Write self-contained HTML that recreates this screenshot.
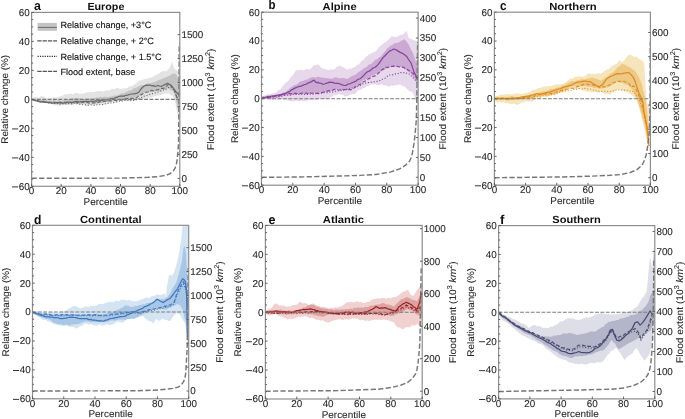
<!DOCTYPE html>
<html><head><meta charset="utf-8"><style>
html,body{margin:0;padding:0;background:#fff;}
svg{display:block;}
#wrap{width:685px;height:419px;overflow:hidden;will-change:transform;}
text{font-family:"Liberation Sans", sans-serif;fill:#262626;text-rendering:geometricPrecision;}
.tk{font-size:9.9px;fill:#2a2a2a;stroke:#2a2a2a;stroke-width:0.1px;}
.lb{font-size:9.7px;fill:#2a2a2a;stroke:#2a2a2a;stroke-width:0.08px;}
.ti{font-size:10.3px;font-weight:bold;fill:#111;}
.lt{font-size:12.8px;font-weight:bold;fill:#111;}
.lg{font-size:9.12px;fill:#111;stroke:#111;stroke-width:0.12px;}
</style></head><body><div id="wrap">
<svg width="685" height="419" viewBox="0 0 685 419">
<rect x="0" y="0" width="685" height="419" fill="#fff"/>
<clipPath id="clipa"><rect x="31.6" y="12.4" width="148.20" height="173.90"/></clipPath>
<g clip-path="url(#clipa)">
<polygon points="31.6,99.0 34.6,97.0 36.5,97.1 38.3,97.8 41.2,96.0 44.1,96.7 47.0,98.5 49.2,98.7 51.4,98.1 53.6,97.3 55.8,97.8 58.0,97.3 60.2,96.3 62.4,95.8 64.6,94.5 66.8,94.2 69.0,94.1 71.2,93.7 73.3,94.5 75.2,93.0 77.0,93.0 78.7,93.6 80.4,93.9 82.1,93.7 83.8,93.4 85.5,92.7 87.3,92.2 89.0,92.3 90.8,92.0 92.5,92.1 94.3,92.0 96.0,91.2 97.8,91.0 99.5,90.7 101.3,91.2 103.0,91.6 104.8,90.9 106.5,90.0 108.3,90.6 110.0,89.9 111.7,88.8 113.3,89.1 115.0,89.0 116.7,87.6 118.8,88.6 120.6,89.1 122.3,88.5 124.1,88.5 125.8,88.2 127.6,87.7 129.5,86.2 131.5,86.6 133.4,85.0 135.1,84.1 136.7,83.0 138.3,81.4 140.0,80.0 141.7,80.3 143.4,79.4 145.1,78.9 146.8,78.7 148.5,78.4 150.1,77.3 151.8,77.8 153.4,76.7 155.1,75.3 156.8,74.8 158.4,73.9 160.1,72.5 161.8,71.5 163.4,71.0 165.1,71.3 166.8,70.9 168.7,68.7 170.5,66.0 171.8,61.7 174.3,68.4 176.0,70.1 177.7,70.9 179.8,72.0 179.8,122.0 178.5,118.0 177.0,112.0 175.5,104.0 173.5,97.0 172.0,95.5 170.3,95.0 168.5,93.3 166.8,93.4 165.0,93.3 163.3,94.0 161.5,94.9 159.8,95.3 158.0,95.5 156.0,95.8 154.0,96.3 152.0,97.6 150.0,97.5 148.4,98.4 146.7,98.3 145.1,98.1 143.4,99.4 141.8,99.3 140.1,98.9 138.4,99.5 136.7,100.7 135.0,100.4 133.2,101.1 131.3,100.4 129.4,101.0 127.6,100.8 125.8,101.3 124.1,100.6 122.3,101.0 120.6,101.1 118.8,101.3 117.0,101.8 115.3,102.6 113.5,101.9 111.8,101.9 110.0,103.0 108.3,103.7 106.5,103.7 104.8,103.9 103.0,104.5 101.3,104.8 99.5,104.3 97.8,104.9 96.0,104.9 94.3,104.9 92.5,105.2 90.2,105.0 88.0,105.5 86.4,107.0 83.8,103.9 81.0,104.3 78.9,103.5 76.9,104.9 74.8,104.3 73.0,104.7 71.2,104.7 69.3,104.7 67.5,105.1 65.7,104.6 63.8,105.4 62.0,104.7 60.1,105.7 58.3,105.8 56.5,105.3 54.7,105.6 52.9,104.3 51.1,104.3 49.2,104.1 47.4,103.6 45.6,103.2 43.8,102.9 42.0,102.9 40.1,101.3 38.3,101.4 36.6,101.5 35.0,101.4 33.3,100.1 31.6,100.0" fill="#e3e3e3"/>
<polygon points="31.6,99.2 33.3,99.2 35.0,98.7 36.6,99.6 38.3,99.0 40.0,99.5 41.7,100.1 43.3,99.3 45.0,100.3 46.7,100.2 48.3,100.8 50.0,100.5 51.7,101.0 53.3,100.1 55.0,100.0 56.7,101.0 58.3,100.0 60.0,100.5 61.7,100.7 63.3,100.2 65.0,100.2 66.7,100.0 68.3,98.9 70.0,99.1 71.7,98.5 73.3,97.9 75.0,98.2 76.8,98.0 78.5,98.2 80.2,98.3 82.0,98.9 83.8,98.9 85.5,98.5 87.2,98.4 89.0,98.4 90.8,98.2 92.5,98.6 94.7,98.1 96.9,97.3 98.5,97.7 100.2,96.5 101.8,97.5 103.5,96.9 105.1,96.5 106.7,96.9 108.4,97.1 110.0,96.5 111.8,96.4 113.5,95.6 115.3,95.4 117.0,95.5 118.8,94.7 120.6,93.6 122.3,93.3 124.1,93.2 125.8,91.9 127.6,91.6 129.4,90.3 131.3,90.4 133.2,88.4 135.0,88.1 136.7,87.5 138.4,86.3 140.1,85.8 141.8,85.1 143.5,84.9 145.1,84.4 146.8,83.7 148.4,83.1 150.1,83.5 151.7,82.7 153.4,82.6 155.1,81.7 156.8,80.9 158.4,80.2 160.1,79.5 161.8,79.2 163.5,77.9 165.2,77.7 166.8,76.9 168.5,75.9 170.2,75.6 171.8,73.7 173.5,73.4 175.2,73.7 176.8,75.0 178.5,80.0 179.8,85.0 179.8,114.0 177.5,108.0 176.0,100.0 173.5,91.8 171.8,90.6 170.2,90.0 168.5,88.4 166.8,88.3 165.2,89.4 163.5,89.7 161.8,89.7 160.2,91.2 158.5,91.0 156.8,90.8 155.1,91.8 153.4,92.0 151.8,92.3 150.1,92.0 148.4,92.0 146.7,92.1 145.0,92.6 143.3,93.0 141.7,94.3 140.0,95.6 138.3,96.0 136.7,96.8 135.0,97.8 133.2,98.1 131.3,98.5 129.4,98.3 127.6,98.6 125.8,99.5 124.1,98.9 122.3,99.4 120.6,99.2 118.8,100.0 117.0,100.9 115.3,100.3 113.5,101.3 111.8,100.6 110.0,101.3 108.3,102.1 106.5,101.9 104.8,102.1 103.0,103.1 101.3,103.0 99.5,102.6 97.8,103.1 96.0,103.5 94.3,103.3 92.5,103.5 90.8,103.0 89.0,103.5 87.2,103.8 85.5,103.5 83.8,103.5 82.0,104.1 80.2,104.4 78.5,104.2 76.8,103.8 75.0,103.9 73.3,104.0 71.7,103.9 70.0,103.8 68.3,104.2 66.7,103.6 65.0,104.0 63.3,103.9 61.7,103.8 60.0,104.4 58.3,104.1 56.7,103.6 55.0,104.0 53.3,103.3 51.7,104.0 50.0,103.2 48.3,102.7 46.7,102.6 45.0,103.0 43.2,102.8 41.5,102.3 39.8,102.2 38.0,101.5 35.9,100.4 33.7,100.6 31.6,99.8" fill="#c3c3c3"/>
<polyline points="31.6,99.6 33.3,99.8 35.0,100.7 36.6,101.2 38.3,101.2 40.0,101.8 41.7,102.3 43.3,101.8 45.0,102.3 46.7,102.4 48.3,102.7 50.0,103.2 51.7,103.3 53.3,103.3 55.0,103.5 56.7,103.3 58.3,103.7 60.0,104.1 61.7,103.4 63.3,103.9 65.0,104.0 66.7,103.8 68.3,103.6 70.0,103.4 71.7,103.8 73.3,103.1 75.0,103.0 76.8,103.5 78.5,103.3 80.3,104.5 82.0,104.5 83.8,104.8 85.5,104.8 87.3,105.3 89.0,105.1 90.8,104.9 92.5,105.2 94.3,105.4 96.0,105.2 97.8,104.6 99.5,104.7 101.3,104.8 103.0,104.5 104.8,103.8 106.5,104.1 108.3,103.2 110.0,103.0 111.8,103.0 113.5,102.6 115.3,102.2 117.0,101.9 118.8,101.3 120.6,100.7 122.3,101.0 124.1,100.4 125.8,100.6 127.6,100.4 129.4,100.8 131.3,100.6 133.2,100.4 135.0,100.4 136.7,99.4 138.3,98.8 140.0,97.9 141.7,97.5 143.3,96.5 145.0,96.0 146.7,95.5 148.3,94.9 150.0,94.2 151.7,93.8 153.3,93.3 155.0,93.0 156.7,92.6 158.3,91.8 160.0,91.2 161.7,90.8 163.3,90.1 165.0,90.0 166.7,88.6 168.3,87.6 170.0,87.0 172.0,88.1 174.0,90.0 177.0,98.0 179.5,102.0" fill="none" stroke="#6a6a6a" stroke-width="1.1" stroke-dasharray="1.1,1.8"/>
<polyline points="31.6,99.4 33.3,99.8 35.0,100.3 36.6,100.5 38.3,100.9 40.0,101.5 41.7,101.8 43.3,101.4 45.0,102.0 46.7,101.7 48.3,102.4 50.0,102.4 51.7,102.2 53.3,102.1 55.0,102.5 56.7,102.6 58.3,102.8 60.0,102.2 61.7,102.6 63.3,102.8 65.0,102.0 66.7,102.2 68.3,102.4 70.0,102.5 71.7,102.6 73.3,102.4 75.0,102.2 76.8,102.5 78.5,102.0 80.2,102.3 82.0,102.2 83.8,102.4 85.5,102.5 87.2,102.3 89.0,103.1 90.8,102.9 92.5,102.9 94.2,102.9 96.0,102.8 97.8,102.7 99.5,101.9 101.2,101.6 103.0,101.4 104.8,101.5 106.5,101.2 108.2,101.0 110.0,100.8 111.8,100.9 113.5,100.5 115.3,100.1 117.0,100.6 118.8,100.0 120.6,100.1 122.3,99.6 124.1,98.9 125.8,98.9 127.6,98.6 129.4,98.5 131.3,98.4 133.2,98.5 135.0,98.6 136.7,97.8 138.3,96.2 140.0,95.0 141.7,94.6 143.3,93.2 145.0,92.8 146.7,92.0 148.3,92.0 150.0,91.0 151.7,90.3 153.4,90.7 155.1,90.4 156.8,89.9 158.4,89.5 160.1,88.7 161.8,88.4 163.5,88.4 165.2,87.4 166.8,85.8 168.5,84.2 170.2,85.3 171.8,86.8 173.5,88.4 176.8,96.8 179.5,100.0" fill="none" stroke="#6a6a6a" stroke-width="1.15" stroke-dasharray="3.7,1.9"/>
<polyline points="31.6,99.4 33.7,100.2 35.9,100.6 38.0,101.2 39.8,101.8 41.5,101.6 43.2,101.8 45.0,102.3 46.7,102.1 48.3,102.7 50.0,102.4 51.7,103.0 53.3,103.0 55.0,102.8 56.7,102.6 58.3,102.6 60.0,102.8 61.7,103.0 63.3,103.2 65.0,102.8 66.7,102.7 68.3,102.1 70.0,102.0 71.7,102.3 73.3,102.1 75.0,101.5 76.8,101.3 78.5,101.8 80.3,101.7 82.0,101.5 83.8,101.3 85.5,101.4 87.3,101.3 89.0,101.5 90.8,101.0 92.5,101.3 94.3,101.1 96.0,100.8 97.8,101.2 99.5,100.3 101.3,100.4 103.0,100.2 104.8,100.0 106.5,99.8 108.3,99.8 110.0,99.1 111.8,98.5 113.5,98.5 115.3,97.8 117.0,97.1 118.8,96.5 120.6,96.2 122.3,96.1 124.1,96.1 125.8,95.3 127.6,95.2 129.4,94.5 131.3,94.0 133.2,93.9 135.0,93.7 137.0,93.1 139.0,92.0 141.0,89.0 143.5,86.5 146.0,85.2 148.0,85.4 150.0,85.0 151.7,85.8 153.3,85.6 155.0,86.5 158.0,85.5 161.0,86.5 164.0,85.0 165.8,84.1 167.7,83.4 169.3,84.3 171.0,85.0 174.0,89.0 177.0,93.0 179.5,95.0" fill="none" stroke="#6a6a6a" stroke-width="1.25" stroke-linejoin="round"/>
</g>
<line x1="31.6" y1="99.35" x2="179.8" y2="99.35" stroke="#7c7c7c" stroke-width="1.05" stroke-dasharray="3.85,1.51"/>
<polyline clip-path="url(#clipa)" points="31.6,178.3 120.0,178.1 138.0,177.6 148.0,177.3 158.0,176.6 166.1,175.3 170.1,173.6 173.1,171.1 175.1,168.1 176.4,164.1 177.1,160.0 177.6,155.0 178.1,150.0 178.4,145.0 178.6,140.0 178.8,120.0 179.0,100.0 179.1,70.0 179.2,46.0" fill="none" stroke="#767676" stroke-width="1.45" stroke-dasharray="5.25,2.27"/>
<rect x="31.6" y="12.4" width="148.2" height="173.9" fill="none" stroke="#8e8e8e" stroke-width="1.2"/>
<line x1="31.6" y1="186.3" x2="33.8" y2="186.3" stroke="#555" stroke-width="0.9"/>
<line x1="31.6" y1="179.05" x2="33.2" y2="179.05" stroke="#555" stroke-width="0.9"/>
<line x1="31.6" y1="171.81" x2="33.2" y2="171.81" stroke="#555" stroke-width="0.9"/>
<line x1="31.6" y1="164.56" x2="33.2" y2="164.56" stroke="#555" stroke-width="0.9"/>
<line x1="31.6" y1="157.32" x2="33.8" y2="157.32" stroke="#555" stroke-width="0.9"/>
<line x1="31.6" y1="150.07" x2="33.2" y2="150.07" stroke="#555" stroke-width="0.9"/>
<line x1="31.6" y1="142.83" x2="33.2" y2="142.83" stroke="#555" stroke-width="0.9"/>
<line x1="31.6" y1="135.58" x2="33.2" y2="135.58" stroke="#555" stroke-width="0.9"/>
<line x1="31.6" y1="128.33" x2="33.8" y2="128.33" stroke="#555" stroke-width="0.9"/>
<line x1="31.6" y1="121.09" x2="33.2" y2="121.09" stroke="#555" stroke-width="0.9"/>
<line x1="31.6" y1="113.84" x2="33.2" y2="113.84" stroke="#555" stroke-width="0.9"/>
<line x1="31.6" y1="106.6" x2="33.2" y2="106.6" stroke="#555" stroke-width="0.9"/>
<line x1="31.6" y1="99.35" x2="33.8" y2="99.35" stroke="#555" stroke-width="0.9"/>
<line x1="31.6" y1="92.1" x2="33.2" y2="92.1" stroke="#555" stroke-width="0.9"/>
<line x1="31.6" y1="84.86" x2="33.2" y2="84.86" stroke="#555" stroke-width="0.9"/>
<line x1="31.6" y1="77.61" x2="33.2" y2="77.61" stroke="#555" stroke-width="0.9"/>
<line x1="31.6" y1="70.37" x2="33.8" y2="70.37" stroke="#555" stroke-width="0.9"/>
<line x1="31.6" y1="63.12" x2="33.2" y2="63.12" stroke="#555" stroke-width="0.9"/>
<line x1="31.6" y1="55.88" x2="33.2" y2="55.88" stroke="#555" stroke-width="0.9"/>
<line x1="31.6" y1="48.63" x2="33.2" y2="48.63" stroke="#555" stroke-width="0.9"/>
<line x1="31.6" y1="41.38" x2="33.8" y2="41.38" stroke="#555" stroke-width="0.9"/>
<line x1="31.6" y1="34.14" x2="33.2" y2="34.14" stroke="#555" stroke-width="0.9"/>
<line x1="31.6" y1="26.89" x2="33.2" y2="26.89" stroke="#555" stroke-width="0.9"/>
<line x1="31.6" y1="19.65" x2="33.2" y2="19.65" stroke="#555" stroke-width="0.9"/>
<line x1="31.6" y1="12.4" x2="33.8" y2="12.4" stroke="#555" stroke-width="0.9"/>
<text x="29.8" y="189.7" text-anchor="end" class="tk">60</text>
<line x1="12.1" y1="186.9" x2="18.2" y2="186.9" stroke="#2a2a2a" stroke-width="0.95"/>
<text x="29.8" y="160.72" text-anchor="end" class="tk">40</text>
<line x1="12.1" y1="157.92" x2="18.2" y2="157.92" stroke="#2a2a2a" stroke-width="0.95"/>
<text x="29.8" y="131.73" text-anchor="end" class="tk">20</text>
<line x1="12.1" y1="128.93" x2="18.2" y2="128.93" stroke="#2a2a2a" stroke-width="0.95"/>
<text x="29.8" y="102.75" text-anchor="end" class="tk">0</text>
<text x="29.8" y="73.77" text-anchor="end" class="tk">20</text>
<text x="29.8" y="44.78" text-anchor="end" class="tk">40</text>
<text x="29.8" y="15.8" text-anchor="end" class="tk">60</text>
<line x1="31.6" y1="186.3" x2="31.6" y2="183.9" stroke="#555" stroke-width="0.9"/>
<text x="31.6" y="194.1" text-anchor="middle" class="tk">0</text>
<line x1="61.24" y1="186.3" x2="61.24" y2="183.9" stroke="#555" stroke-width="0.9"/>
<text x="61.24" y="194.1" text-anchor="middle" class="tk">20</text>
<line x1="90.88" y1="186.3" x2="90.88" y2="183.9" stroke="#555" stroke-width="0.9"/>
<text x="90.88" y="194.1" text-anchor="middle" class="tk">40</text>
<line x1="120.52" y1="186.3" x2="120.52" y2="183.9" stroke="#555" stroke-width="0.9"/>
<text x="120.52" y="194.1" text-anchor="middle" class="tk">60</text>
<line x1="150.16" y1="186.3" x2="150.16" y2="183.9" stroke="#555" stroke-width="0.9"/>
<text x="150.16" y="194.1" text-anchor="middle" class="tk">80</text>
<line x1="179.8" y1="186.3" x2="179.8" y2="183.9" stroke="#555" stroke-width="0.9"/>
<text x="179.8" y="194.1" text-anchor="middle" class="tk">100</text>
<line x1="179.8" y1="178.4" x2="177.6" y2="178.4" stroke="#555" stroke-width="0.9"/>
<text x="181.4" y="181.8" class="tk">0</text>
<line x1="179.8" y1="154.43" x2="177.6" y2="154.43" stroke="#555" stroke-width="0.9"/>
<text x="181.4" y="157.83" class="tk">250</text>
<line x1="179.8" y1="130.46" x2="177.6" y2="130.46" stroke="#555" stroke-width="0.9"/>
<text x="181.4" y="133.86" class="tk">500</text>
<line x1="179.8" y1="106.49" x2="177.6" y2="106.49" stroke="#555" stroke-width="0.9"/>
<text x="181.4" y="109.89" class="tk">750</text>
<line x1="179.8" y1="82.52" x2="177.6" y2="82.52" stroke="#555" stroke-width="0.9"/>
<text x="181.4" y="85.92" class="tk">1000</text>
<line x1="179.8" y1="58.55" x2="177.6" y2="58.55" stroke="#555" stroke-width="0.9"/>
<text x="181.4" y="61.95" class="tk">1250</text>
<line x1="179.8" y1="34.58" x2="177.6" y2="34.58" stroke="#555" stroke-width="0.9"/>
<text x="181.4" y="37.98" class="tk">1500</text>
<text x="105.9" y="9.9" text-anchor="middle" class="ti" textLength="37.0" lengthAdjust="spacingAndGlyphs">Europe</text>
<text x="33.9" y="9.6" class="lt" textLength="6.9" lengthAdjust="spacingAndGlyphs">a</text>
<text x="105.7" y="204.9" text-anchor="middle" class="lb" textLength="44.3" lengthAdjust="spacingAndGlyphs">Percentile</text>
<text transform="translate(8.2,99.35) rotate(-90)" text-anchor="middle" class="lb" textLength="88.8" lengthAdjust="spacingAndGlyphs">Relative change (%)</text>
<text transform="translate(213.8,99.35) rotate(-90)" text-anchor="middle" class="lb" textLength="101.5" lengthAdjust="spacingAndGlyphs">Flood extent (10<tspan dy="-4.0" font-size="6.8">3</tspan><tspan dy="4.0"> </tspan><tspan font-style="italic">km</tspan><tspan dy="-4.0" font-size="6.8">2</tspan><tspan dy="4.0">)</tspan></text>
<clipPath id="clipb"><rect x="261.5" y="12.2" width="156.60" height="173.00"/></clipPath>
<g clip-path="url(#clipb)">
<polygon points="261.5,97.5 263.6,95.7 265.6,95.0 267.7,94.3 269.4,93.9 271.0,94.1 272.7,93.4 274.4,93.1 276.1,92.8 277.7,90.5 279.4,90.1 281.1,88.5 282.7,86.0 284.4,84.3 286.1,82.3 287.7,81.7 289.4,79.2 291.1,76.4 292.7,75.4 294.4,72.6 296.0,70.5 297.7,69.7 299.4,70.4 301.0,69.2 302.7,70.4 304.4,70.1 306.1,69.3 307.8,69.2 309.4,69.4 311.1,68.4 312.8,66.3 314.4,65.1 316.5,64.4 318.6,64.7 321.1,67.6 322.8,68.4 324.5,69.1 326.1,69.3 327.8,70.1 329.5,69.9 331.1,69.2 332.8,69.6 334.5,69.2 336.2,67.7 338.0,66.1 341.0,65.9 342.9,67.2 344.7,67.9 346.6,69.4 348.3,69.2 350.0,68.6 351.8,68.8 353.5,67.3 355.2,67.2 356.8,64.9 358.4,64.8 360.0,63.1 361.6,60.8 363.7,59.7 365.9,56.8 368.0,55.4 369.6,53.8 371.2,53.8 372.9,52.3 374.5,52.2 376.6,50.4 378.8,47.2 380.9,45.8 382.5,44.3 384.1,42.8 385.8,42.3 387.4,40.4 389.5,38.8 391.7,36.1 393.9,36.7 396.0,37.2 398.1,36.0 400.2,35.0 401.9,34.8 403.5,34.0 406.7,30.7 408.8,38.2 412.0,39.3 413.6,40.2 415.3,40.4 418.1,42.0 418.1,106.0 416.3,101.6 413.1,93.0 411.0,91.8 408.8,90.8 406.6,88.5 404.5,86.5 402.4,86.1 400.2,84.6 398.1,84.4 396.4,85.4 394.7,85.1 392.9,86.0 391.2,85.6 389.5,86.5 387.8,86.5 386.1,85.3 384.3,85.5 382.6,84.8 380.9,84.4 379.1,85.1 377.3,84.9 375.5,84.2 373.8,84.6 372.0,84.5 370.2,84.4 368.4,85.9 366.6,86.3 364.9,87.7 363.1,88.1 361.3,89.4 359.5,89.8 357.4,91.1 355.2,94.0 353.5,94.3 351.8,94.3 350.0,94.8 348.3,95.7 346.6,96.2 344.9,96.5 343.2,94.9 341.4,94.9 339.7,94.1 338.0,94.0 336.3,95.5 334.6,95.3 332.9,95.6 331.2,97.3 329.5,97.9 327.8,98.5 326.1,99.0 324.5,99.2 322.8,99.3 321.1,98.8 319.5,98.5 317.8,99.6 316.1,100.0 314.4,99.7 312.8,100.2 311.1,100.1 309.4,100.0 307.8,100.6 306.1,100.7 304.4,100.9 302.8,101.3 301.1,100.8 299.4,101.3 297.7,101.0 296.1,100.6 294.4,101.0 292.7,101.4 291.1,101.0 289.4,100.9 287.7,100.4 286.0,99.6 284.4,99.8 282.7,99.6 281.0,99.3 279.4,100.1 277.7,99.3 276.1,100.0 274.5,99.1 272.8,100.1 271.2,99.8 269.6,99.6 268.0,98.7 266.4,99.1 264.7,98.5 263.1,98.6 261.5,99.3" fill="#e7d8ec"/>
<polygon points="261.5,97.0 263.1,96.6 264.7,96.5 266.4,95.9 268.0,95.9 269.6,95.6 271.2,96.4 272.8,95.7 274.5,96.0 276.1,95.4 277.7,95.1 279.4,94.3 281.0,93.4 282.7,92.7 284.3,92.2 286.0,91.8 287.7,90.2 289.4,89.1 291.0,87.2 292.7,86.2 294.4,85.1 296.1,84.7 297.8,83.7 299.4,82.0 301.1,81.3 302.8,81.0 304.5,80.2 306.1,79.4 307.8,79.5 309.4,78.3 311.1,77.6 312.8,77.0 314.5,77.4 316.1,77.5 317.8,76.6 319.5,77.1 321.2,77.4 322.8,77.6 324.5,77.9 326.1,78.1 327.8,78.4 329.5,78.2 331.2,78.9 332.9,78.2 334.6,77.5 336.3,77.5 338.0,78.0 339.7,78.6 341.4,78.0 343.2,78.1 344.9,78.3 346.6,79.0 348.3,78.5 350.0,77.3 351.8,76.2 353.5,75.5 355.2,74.7 356.9,73.7 358.6,71.8 360.4,70.9 362.1,69.8 363.8,68.3 365.5,67.8 367.2,66.3 368.9,64.5 370.6,64.3 372.3,62.9 374.0,61.1 375.7,59.8 377.5,59.0 379.2,57.3 380.9,56.5 382.5,54.3 384.1,52.5 385.8,50.6 387.4,47.9 389.0,47.3 390.6,45.5 392.2,45.1 393.8,43.6 395.9,42.9 398.1,42.8 400.2,41.5 402.4,40.2 404.5,39.3 406.6,41.7 408.8,44.7 411.0,49.4 413.1,53.3 416.3,62.9 418.1,68.0 418.1,86.0 415.3,80.1 413.1,77.2 411.0,73.7 409.4,72.2 407.8,71.3 406.1,69.9 404.5,68.3 402.4,67.1 400.2,67.1 398.1,66.1 396.4,66.1 394.7,67.0 392.9,66.3 391.2,67.1 389.5,67.2 387.8,68.6 386.1,68.5 384.3,70.2 382.6,70.6 380.9,71.5 379.2,72.9 377.5,72.9 375.7,73.9 374.0,74.7 372.3,75.8 370.6,76.7 368.9,78.1 367.2,78.6 365.5,79.8 363.8,80.1 362.1,81.3 360.4,83.1 358.6,84.4 356.9,85.6 355.2,86.5 353.5,87.0 351.8,87.8 350.0,89.3 348.3,89.8 346.6,90.8 344.9,90.2 343.2,90.3 341.4,90.0 339.7,89.3 338.0,88.7 336.3,89.4 334.6,90.3 332.9,90.2 331.2,90.5 329.5,91.7 327.8,91.8 326.1,92.2 324.5,92.0 322.8,91.9 321.1,93.0 319.5,92.3 317.8,92.9 316.1,93.2 314.4,92.8 312.8,92.9 311.1,93.4 309.4,94.1 307.8,93.5 306.1,94.2 304.4,93.7 302.8,94.1 301.1,94.4 299.4,93.9 297.7,93.7 296.1,94.8 294.4,94.3 292.7,94.7 291.1,95.5 289.4,94.9 287.7,95.9 286.0,95.6 284.4,96.0 282.7,96.0 281.0,97.0 279.4,96.8 277.7,97.6 276.1,97.9 274.5,97.3 272.8,98.5 271.2,98.4 269.6,98.8 268.0,98.4 266.4,98.8 264.7,98.8 263.1,98.8 261.5,98.8" fill="#caa9d2"/>
<polyline points="261.5,98.5 263.1,98.4 264.7,97.8 266.4,97.7 268.0,98.1 269.6,97.8 271.2,97.5 272.8,97.0 274.5,97.3 276.1,97.0 277.7,96.5 279.4,96.7 281.0,96.3 282.7,95.8 284.4,95.4 286.0,95.1 287.7,95.0 289.4,95.3 291.1,94.8 292.7,94.5 294.4,94.3 296.1,94.4 297.7,94.6 299.4,94.5 301.1,94.1 302.8,94.7 304.4,94.5 306.1,94.1 307.8,94.5 309.4,93.9 311.1,94.3 312.8,94.3 314.4,93.5 316.1,93.7 317.8,94.0 319.5,93.3 321.1,93.2 322.8,93.3 324.5,92.6 326.1,92.7 327.8,92.6 329.5,92.1 331.2,91.7 332.9,92.0 334.6,91.8 336.3,90.9 338.0,90.8 339.6,91.0 341.2,90.5 342.8,90.4 344.4,89.8 346.1,89.4 347.7,88.9 349.3,88.9 350.9,88.7 352.6,87.7 354.3,87.0 356.1,86.7 357.8,86.2 359.5,85.5 361.1,85.0 362.7,83.7 364.3,83.0 366.0,83.0 367.6,82.6 369.3,82.5 371.2,82.1 373.0,81.9 374.9,81.7 376.7,81.4 378.6,81.1 380.7,80.1 382.9,79.0 385.0,78.3 387.1,76.5 389.3,75.0 391.5,75.0 393.6,74.7 395.4,73.9 397.1,73.9 398.9,73.3 400.6,72.6 402.4,72.6 404.0,72.7 405.6,73.5 407.2,73.0 408.8,73.7 410.4,75.0 412.1,77.1 413.7,78.4 415.3,80.1 418.0,84.0" fill="none" stroke="#87449a" stroke-width="1.1" stroke-dasharray="1.1,1.8"/>
<polyline points="261.5,98.3 263.1,97.6 264.7,98.1 266.4,97.7 268.0,97.4 269.6,97.3 271.2,96.9 272.8,96.5 274.5,96.1 276.1,96.0 277.7,96.0 279.4,95.8 281.0,94.6 282.7,94.1 284.3,94.2 286.0,93.4 287.7,93.3 289.4,93.3 291.0,93.7 292.7,93.8 294.4,93.4 296.1,93.3 297.7,93.8 299.4,93.6 301.1,93.3 302.8,93.0 304.4,93.3 306.1,93.0 307.8,93.6 309.4,92.7 311.1,93.1 312.8,93.2 314.5,93.1 316.1,93.5 317.8,93.2 319.5,93.4 321.2,93.1 322.8,92.2 324.5,91.7 326.1,91.7 327.8,90.9 329.5,90.5 331.1,90.4 332.8,90.1 334.5,89.3 336.2,89.2 338.0,89.8 339.6,90.0 341.2,89.4 342.8,89.6 344.4,89.5 346.1,89.5 347.7,89.7 349.3,89.5 350.9,89.8 352.6,88.9 354.3,87.8 356.1,86.6 357.8,85.8 359.5,84.4 361.2,83.8 362.9,82.0 364.6,81.5 366.3,80.3 368.0,79.0 369.7,78.4 371.4,76.9 373.2,76.5 374.9,75.9 376.6,74.7 378.3,73.3 380.0,71.6 381.8,69.8 383.5,69.0 385.2,67.2 386.9,67.3 388.6,67.1 390.4,66.7 392.1,66.4 393.8,66.1 395.5,66.7 397.2,66.4 399.0,66.8 400.7,67.4 402.4,67.2 404.0,67.6 405.6,69.1 407.2,69.3 408.8,70.4 410.4,71.3 412.1,72.9 413.7,74.0 415.3,75.8 418.0,80.0" fill="none" stroke="#87449a" stroke-width="1.15" stroke-dasharray="3.7,1.9"/>
<polyline points="261.5,98.0 263.1,97.3 264.7,97.7 266.4,97.1 268.0,96.4 269.6,96.6 271.2,96.1 272.8,95.9 274.5,95.9 276.1,95.4 277.7,95.1 279.4,94.8 281.0,94.8 282.7,94.2 284.3,93.8 286.0,93.4 287.7,92.1 289.4,91.7 291.0,90.1 292.7,89.4 294.4,88.4 296.1,87.7 297.8,86.8 299.4,86.4 301.1,86.3 302.8,85.4 304.4,84.5 306.1,84.3 307.8,83.1 309.4,82.6 311.8,81.4 314.1,80.1 316.1,82.6 317.8,82.4 319.5,83.1 321.1,83.3 322.8,84.3 324.5,84.0 326.1,83.3 327.8,82.9 329.5,82.1 331.2,82.3 332.8,82.4 334.5,83.1 336.2,83.3 338.0,83.3 340.1,84.0 342.3,84.9 344.4,85.5 346.0,85.4 347.6,84.2 349.3,84.0 350.9,83.3 352.6,82.5 354.3,81.9 356.1,81.0 357.8,79.4 359.5,79.0 361.2,77.9 362.9,76.3 364.6,74.4 366.3,72.6 368.0,71.5 369.7,70.9 371.4,69.6 373.2,67.8 374.9,67.5 376.6,66.1 378.2,64.3 379.9,62.2 381.5,59.5 383.1,57.6 385.2,55.5 387.4,53.1 389.5,51.1 391.6,50.2 393.8,49.0 396.0,49.8 398.1,51.1 400.2,52.4 402.4,53.3 404.5,54.7 406.7,56.5 408.9,60.0 411.0,62.9 414.2,72.6 417.4,78.0" fill="none" stroke="#87449a" stroke-width="1.25" stroke-linejoin="round"/>
</g>
<line x1="261.5" y1="98.7" x2="418.1" y2="98.7" stroke="#7c7c7c" stroke-width="1.05" stroke-dasharray="3.85,1.51"/>
<polyline clip-path="url(#clipb)" points="261.5,177.3 300.0,177.0 340.0,176.0 360.0,175.4 376.0,174.5 390.8,171.9 399.7,168.9 405.6,165.2 409.3,161.5 411.6,157.0 413.0,149.6 414.2,142.2 415.0,134.8 415.7,127.4 416.3,120.0 416.8,100.0 417.3,70.0 417.6,42.0" fill="none" stroke="#767676" stroke-width="1.45" stroke-dasharray="5.25,2.27"/>
<rect x="261.5" y="12.2" width="156.6" height="173" fill="none" stroke="#8e8e8e" stroke-width="1.2"/>
<line x1="261.5" y1="185.2" x2="263.7" y2="185.2" stroke="#555" stroke-width="0.9"/>
<line x1="261.5" y1="177.99" x2="263.1" y2="177.99" stroke="#555" stroke-width="0.9"/>
<line x1="261.5" y1="170.78" x2="263.1" y2="170.78" stroke="#555" stroke-width="0.9"/>
<line x1="261.5" y1="163.57" x2="263.1" y2="163.57" stroke="#555" stroke-width="0.9"/>
<line x1="261.5" y1="156.37" x2="263.7" y2="156.37" stroke="#555" stroke-width="0.9"/>
<line x1="261.5" y1="149.16" x2="263.1" y2="149.16" stroke="#555" stroke-width="0.9"/>
<line x1="261.5" y1="141.95" x2="263.1" y2="141.95" stroke="#555" stroke-width="0.9"/>
<line x1="261.5" y1="134.74" x2="263.1" y2="134.74" stroke="#555" stroke-width="0.9"/>
<line x1="261.5" y1="127.53" x2="263.7" y2="127.53" stroke="#555" stroke-width="0.9"/>
<line x1="261.5" y1="120.33" x2="263.1" y2="120.33" stroke="#555" stroke-width="0.9"/>
<line x1="261.5" y1="113.12" x2="263.1" y2="113.12" stroke="#555" stroke-width="0.9"/>
<line x1="261.5" y1="105.91" x2="263.1" y2="105.91" stroke="#555" stroke-width="0.9"/>
<line x1="261.5" y1="98.7" x2="263.7" y2="98.7" stroke="#555" stroke-width="0.9"/>
<line x1="261.5" y1="91.49" x2="263.1" y2="91.49" stroke="#555" stroke-width="0.9"/>
<line x1="261.5" y1="84.28" x2="263.1" y2="84.28" stroke="#555" stroke-width="0.9"/>
<line x1="261.5" y1="77.08" x2="263.1" y2="77.08" stroke="#555" stroke-width="0.9"/>
<line x1="261.5" y1="69.87" x2="263.7" y2="69.87" stroke="#555" stroke-width="0.9"/>
<line x1="261.5" y1="62.66" x2="263.1" y2="62.66" stroke="#555" stroke-width="0.9"/>
<line x1="261.5" y1="55.45" x2="263.1" y2="55.45" stroke="#555" stroke-width="0.9"/>
<line x1="261.5" y1="48.24" x2="263.1" y2="48.24" stroke="#555" stroke-width="0.9"/>
<line x1="261.5" y1="41.03" x2="263.7" y2="41.03" stroke="#555" stroke-width="0.9"/>
<line x1="261.5" y1="33.83" x2="263.1" y2="33.83" stroke="#555" stroke-width="0.9"/>
<line x1="261.5" y1="26.62" x2="263.1" y2="26.62" stroke="#555" stroke-width="0.9"/>
<line x1="261.5" y1="19.41" x2="263.1" y2="19.41" stroke="#555" stroke-width="0.9"/>
<line x1="261.5" y1="12.2" x2="263.7" y2="12.2" stroke="#555" stroke-width="0.9"/>
<text x="259.7" y="188.6" text-anchor="end" class="tk">60</text>
<line x1="242" y1="185.8" x2="248.1" y2="185.8" stroke="#2a2a2a" stroke-width="0.95"/>
<text x="259.7" y="159.77" text-anchor="end" class="tk">40</text>
<line x1="242" y1="156.97" x2="248.1" y2="156.97" stroke="#2a2a2a" stroke-width="0.95"/>
<text x="259.7" y="130.93" text-anchor="end" class="tk">20</text>
<line x1="242" y1="128.13" x2="248.1" y2="128.13" stroke="#2a2a2a" stroke-width="0.95"/>
<text x="259.7" y="102.1" text-anchor="end" class="tk">0</text>
<text x="259.7" y="73.27" text-anchor="end" class="tk">20</text>
<text x="259.7" y="44.43" text-anchor="end" class="tk">40</text>
<text x="259.7" y="15.6" text-anchor="end" class="tk">60</text>
<line x1="261.5" y1="185.2" x2="261.5" y2="182.8" stroke="#555" stroke-width="0.9"/>
<text x="261.5" y="193" text-anchor="middle" class="tk">0</text>
<line x1="292.82" y1="185.2" x2="292.82" y2="182.8" stroke="#555" stroke-width="0.9"/>
<text x="292.82" y="193" text-anchor="middle" class="tk">20</text>
<line x1="324.14" y1="185.2" x2="324.14" y2="182.8" stroke="#555" stroke-width="0.9"/>
<text x="324.14" y="193" text-anchor="middle" class="tk">40</text>
<line x1="355.46" y1="185.2" x2="355.46" y2="182.8" stroke="#555" stroke-width="0.9"/>
<text x="355.46" y="193" text-anchor="middle" class="tk">60</text>
<line x1="386.78" y1="185.2" x2="386.78" y2="182.8" stroke="#555" stroke-width="0.9"/>
<text x="386.78" y="193" text-anchor="middle" class="tk">80</text>
<line x1="418.1" y1="185.2" x2="418.1" y2="182.8" stroke="#555" stroke-width="0.9"/>
<text x="418.1" y="193" text-anchor="middle" class="tk">100</text>
<line x1="418.1" y1="177.3" x2="415.9" y2="177.3" stroke="#555" stroke-width="0.9"/>
<text x="419.7" y="180.7" class="tk">0</text>
<line x1="418.1" y1="157.4" x2="415.9" y2="157.4" stroke="#555" stroke-width="0.9"/>
<text x="419.7" y="160.8" class="tk">50</text>
<line x1="418.1" y1="137.5" x2="415.9" y2="137.5" stroke="#555" stroke-width="0.9"/>
<text x="419.7" y="140.9" class="tk">100</text>
<line x1="418.1" y1="117.6" x2="415.9" y2="117.6" stroke="#555" stroke-width="0.9"/>
<text x="419.7" y="121" class="tk">150</text>
<line x1="418.1" y1="97.7" x2="415.9" y2="97.7" stroke="#555" stroke-width="0.9"/>
<text x="419.7" y="101.1" class="tk">200</text>
<line x1="418.1" y1="77.8" x2="415.9" y2="77.8" stroke="#555" stroke-width="0.9"/>
<text x="419.7" y="81.2" class="tk">250</text>
<line x1="418.1" y1="57.9" x2="415.9" y2="57.9" stroke="#555" stroke-width="0.9"/>
<text x="419.7" y="61.3" class="tk">300</text>
<line x1="418.1" y1="38" x2="415.9" y2="38" stroke="#555" stroke-width="0.9"/>
<text x="419.7" y="41.4" class="tk">350</text>
<line x1="418.1" y1="18.1" x2="415.9" y2="18.1" stroke="#555" stroke-width="0.9"/>
<text x="419.7" y="21.5" class="tk">400</text>
<text x="339.6" y="9.7" text-anchor="middle" class="ti" textLength="34.0" lengthAdjust="spacingAndGlyphs">Alpine</text>
<text x="268.5" y="9" class="lt" textLength="7.0" lengthAdjust="spacingAndGlyphs">b</text>
<text x="339.8" y="203.6" text-anchor="middle" class="lb" textLength="44.3" lengthAdjust="spacingAndGlyphs">Percentile</text>
<text transform="translate(237.7,98.7) rotate(-90)" text-anchor="middle" class="lb" textLength="88.8" lengthAdjust="spacingAndGlyphs">Relative change (%)</text>
<text transform="translate(445.8,98.7) rotate(-90)" text-anchor="middle" class="lb" textLength="101.5" lengthAdjust="spacingAndGlyphs">Flood extent (10<tspan dy="-4.0" font-size="6.8">3</tspan><tspan dy="4.0"> </tspan><tspan font-style="italic">km</tspan><tspan dy="-4.0" font-size="6.8">2</tspan><tspan dy="4.0">)</tspan></text>
<clipPath id="clipc"><rect x="494.4" y="12.2" width="156.00" height="173.00"/></clipPath>
<g clip-path="url(#clipc)">
<polygon points="494.4,96.5 496.2,96.2 498.1,96.0 499.9,94.6 501.8,95.0 503.7,94.6 505.6,94.5 507.6,94.0 509.5,94.2 511.4,94.5 513.4,94.3 515.3,93.4 517.3,93.4 520.0,93.7 521.8,93.9 523.6,93.5 525.5,93.0 527.3,92.6 529.1,92.6 531.0,91.1 532.8,89.7 534.6,89.7 536.4,89.1 538.2,88.0 540.1,87.9 541.9,87.1 543.7,86.8 545.5,86.2 547.4,86.4 549.2,86.0 551.0,86.1 552.9,85.5 554.7,84.8 556.5,84.6 558.3,84.2 560.1,84.3 562.0,84.0 563.8,83.5 565.6,82.2 567.4,80.9 570.0,78.4 572.0,78.7 573.9,77.8 575.8,76.5 577.8,76.8 579.7,76.0 581.6,76.8 583.6,76.5 585.5,76.0 588.6,72.9 591.0,74.1 593.3,73.7 595.2,74.4 597.1,73.3 599.1,73.6 601.0,73.7 604.1,71.4 606.5,69.7 608.8,69.1 611.9,66.0 615.0,64.4 616.8,63.4 618.6,61.1 620.4,60.5 622.0,62.4 624.0,60.7 625.9,57.9 627.9,55.6 629.9,54.6 632.5,55.9 635.1,57.2 636.4,55.9 638.4,58.5 640.3,59.2 641.7,61.1 643.0,60.5 644.3,64.4 644.9,76.2 645.6,89.3 646.9,102.4 649.6,108.0 649.8,128.0 649.0,140.0 648.4,148.0 648.4,148.0 646.9,141.6 643.8,126.1 639.9,110.5 636.0,98.1 634.4,97.4 632.8,96.0 630.7,94.1 628.7,93.4 626.6,92.3 624.7,91.5 622.9,91.0 621.0,90.7 619.2,89.3 617.3,89.2 615.5,91.0 613.8,92.0 612.0,92.8 610.3,94.7 608.0,93.9 605.7,93.9 603.4,93.3 601.0,91.6 599.1,92.4 597.1,92.4 595.2,91.9 593.3,92.3 591.3,92.5 589.4,91.3 587.5,91.9 585.5,90.8 583.6,90.9 581.6,89.1 579.7,89.3 577.8,88.5 576.1,89.2 574.4,89.4 572.7,88.7 571.0,89.0 569.2,89.2 567.4,90.1 565.6,91.6 563.8,92.2 562.0,92.1 560.1,92.8 558.3,93.2 556.5,94.4 554.7,95.6 552.9,94.7 551.0,95.7 549.2,96.2 547.4,96.8 545.5,97.3 543.7,96.9 541.9,97.7 540.1,98.2 538.2,99.2 536.4,98.9 534.6,99.2 533.1,101.4 531.2,101.4 529.2,101.4 527.3,101.4 525.5,101.3 523.6,102.5 521.8,102.2 520.0,103.5 517.3,105.0 515.3,103.9 513.4,103.5 511.4,104.5 509.5,103.5 507.6,103.5 505.6,103.1 503.7,102.1 501.8,102.7 499.9,101.7 498.1,102.7 496.2,102.1 494.4,101.2" fill="#f6e4ba"/>
<polygon points="494.4,97.3 496.1,96.8 497.8,97.1 499.4,97.5 501.1,96.8 502.8,96.9 504.5,97.0 506.1,96.8 507.8,96.9 509.5,96.5 511.2,96.0 513.0,96.2 514.8,97.0 516.5,97.1 518.2,97.3 520.0,96.8 521.8,96.2 523.6,95.9 525.5,95.4 527.3,95.5 529.1,94.9 531.0,94.5 532.8,94.4 534.6,93.5 536.4,92.9 538.2,92.5 540.1,92.4 541.9,91.5 543.7,91.1 545.5,91.2 547.4,90.5 549.2,89.7 551.0,88.7 552.9,89.2 554.7,88.4 556.5,88.0 558.3,87.0 560.1,87.2 562.0,85.8 563.8,85.3 565.9,84.5 567.9,82.7 570.0,82.0 572.0,81.1 573.9,81.3 575.8,80.9 577.8,79.9 579.7,80.0 581.6,78.9 583.6,79.5 585.5,79.1 587.5,78.3 589.4,78.5 591.3,77.5 593.3,77.6 595.2,78.6 597.1,78.7 599.1,80.1 601.0,80.7 603.0,79.5 604.9,77.6 606.8,77.1 608.8,75.3 610.5,73.6 612.3,72.8 614.0,71.4 615.6,70.0 617.3,67.5 619.6,66.2 622.0,63.8 623.6,64.5 625.3,64.8 627.0,65.8 628.6,67.0 630.3,67.6 632.1,69.3 633.8,69.7 636.4,72.9 639.0,77.5 641.7,84.1 643.6,91.9 645.6,99.8 647.5,115.0 648.5,130.0 648.8,145.0 648.4,146.0 647.0,138.0 644.5,125.0 641.0,112.0 637.4,100.1 635.1,95.4 632.8,90.8 630.7,88.1 628.7,86.1 626.6,84.6 624.7,84.2 622.9,83.1 621.0,83.0 619.2,82.1 617.3,81.5 615.6,82.6 614.0,83.8 612.3,84.8 610.5,86.2 608.8,86.9 606.8,87.6 604.9,87.2 603.0,88.4 601.0,88.5 599.1,88.9 597.1,87.6 595.2,88.2 593.3,87.7 591.3,86.9 589.4,86.5 587.5,87.0 585.5,86.1 583.6,86.1 581.6,86.1 579.7,85.9 577.8,85.7 575.8,86.2 573.9,86.0 572.0,86.7 570.0,87.0 567.9,88.2 565.9,88.8 563.8,90.4 562.0,91.0 560.1,92.1 558.3,92.8 556.5,93.0 554.7,93.1 552.9,94.5 551.0,94.2 549.2,94.8 547.4,95.6 545.5,95.2 543.7,95.3 541.9,96.0 540.1,96.3 538.2,96.3 536.4,96.2 534.6,97.0 532.8,97.7 531.0,98.2 529.1,98.2 527.3,98.5 525.5,98.9 523.6,98.9 521.8,99.5 520.0,99.5 518.2,100.1 516.5,99.2 514.8,100.2 513.0,100.2 511.2,99.9 509.5,100.4 507.8,100.2 506.1,100.5 504.5,99.6 502.8,99.5 501.1,100.1 499.4,99.6 497.8,99.9 496.1,99.6 494.4,99.6" fill="#edc985"/>
<polyline points="494.4,98.8 496.0,98.7 497.6,98.9 499.2,98.6 500.8,99.0 502.4,99.1 504.0,98.9 505.6,98.7 507.2,98.5 508.8,98.6 510.4,98.9 512.0,98.2 513.6,98.4 515.2,98.9 516.8,98.3 518.4,98.6 520.0,98.5 521.6,98.7 523.2,98.0 524.9,97.9 526.5,97.8 528.1,97.8 529.7,97.2 531.4,97.7 533.0,96.9 534.6,97.0 536.4,96.7 538.2,96.0 540.1,96.1 541.9,95.5 543.7,95.2 545.5,95.1 547.4,95.4 549.2,95.0 551.0,94.6 552.9,94.5 554.7,93.8 556.5,93.5 558.3,93.1 560.1,92.1 562.0,91.8 563.8,91.5 565.9,90.9 567.9,90.8 570.0,90.8 572.0,90.1 574.0,89.2 575.6,89.1 577.3,89.3 578.9,88.5 580.6,88.6 582.2,89.1 583.9,88.3 585.5,88.5 587.5,88.9 589.4,88.8 591.3,89.3 593.3,90.0 595.2,90.7 597.1,90.7 599.1,91.3 601.0,91.6 603.0,91.2 604.9,91.3 606.8,91.5 608.8,91.6 610.9,91.5 612.9,90.9 615.0,90.0 616.8,90.0 618.5,89.9 620.2,89.6 622.0,90.0 623.6,90.4 625.3,90.1 627.0,90.2 628.6,90.0 630.3,91.0 632.1,91.1 633.8,92.0 635.4,93.9 637.0,96.0 640.0,102.0 643.5,113.0 646.5,127.0 648.2,138.0" fill="none" stroke="#de8c22" stroke-width="1.1" stroke-dasharray="1.1,1.8"/>
<polyline points="494.4,98.6 496.0,98.8 497.6,98.9 499.2,98.8 500.8,98.9 502.4,98.5 504.0,98.2 505.6,98.8 507.2,98.5 508.8,98.8 510.4,98.1 512.0,98.0 513.6,98.3 515.2,98.6 516.8,98.4 518.4,98.5 520.0,98.2 521.6,98.0 523.2,97.3 524.9,97.7 526.5,97.0 528.1,97.3 529.7,96.6 531.4,96.4 533.0,96.2 534.6,96.0 536.4,95.3 538.2,95.0 540.1,94.4 541.9,94.5 543.7,94.0 545.5,94.0 547.4,93.8 549.2,93.5 551.0,93.5 552.9,92.8 554.7,92.5 556.5,92.0 558.3,91.3 560.1,90.8 562.0,90.1 563.8,89.5 565.9,89.4 567.9,89.0 570.0,88.2 572.0,88.2 574.0,88.0 575.6,87.7 577.3,86.4 578.9,86.3 580.6,85.4 582.2,85.1 583.9,84.1 585.5,83.8 587.5,84.2 589.4,84.8 591.3,84.5 593.3,85.0 595.2,86.0 597.1,86.0 599.1,87.1 601.0,87.7 603.0,86.8 604.9,86.9 606.8,85.9 608.8,85.3 610.9,84.2 612.9,83.0 615.0,82.2 616.8,82.1 618.5,81.4 620.2,81.3 622.0,81.0 623.6,81.1 625.3,82.0 627.0,82.3 628.6,83.0 631.2,87.0 633.8,86.0 636.4,90.0 639.0,96.0 641.7,102.0 643.8,112.0 646.9,127.0 648.4,139.0" fill="none" stroke="#de8c22" stroke-width="1.15" stroke-dasharray="3.7,1.9"/>
<polyline points="494.4,98.4 496.1,98.8 497.8,98.1 499.4,98.7 501.1,98.4 502.8,98.1 504.5,98.6 506.1,99.0 507.8,98.3 509.5,98.6 511.2,98.6 513.0,98.3 514.8,98.2 516.5,97.8 518.2,97.5 520.0,97.7 521.8,97.0 523.6,96.7 525.5,96.5 527.3,96.2 529.1,96.0 531.0,95.2 532.8,94.9 534.6,94.4 536.4,93.8 538.2,93.9 540.1,94.3 541.9,93.7 543.7,93.6 545.5,92.7 547.4,92.7 549.2,92.2 551.0,91.6 552.8,90.8 554.6,90.3 556.5,89.7 558.3,89.0 560.1,88.8 562.0,87.8 563.8,87.1 565.9,86.6 567.9,86.1 570.0,85.3 572.0,84.8 573.9,83.8 575.8,82.7 577.8,82.2 579.7,82.1 581.6,81.6 583.6,81.1 585.5,81.0 587.9,81.6 590.2,81.5 592.5,83.5 594.8,84.6 596.8,85.9 598.7,86.9 600.7,85.6 602.6,84.6 604.9,81.2 607.2,78.4 609.5,76.9 611.9,76.0 613.7,75.1 615.5,74.1 617.3,73.7 619.6,73.8 622.0,73.6 624.0,73.2 625.9,72.9 628.6,72.5 629.9,73.6 631.8,75.5 633.8,78.2 635.1,81.4 636.4,85.4 637.7,89.3 639.0,93.2 640.3,95.9 641.7,98.5 643.0,102.4 643.8,110.5 646.9,126.1 648.4,138.5 649.0,146.0" fill="none" stroke="#de8c22" stroke-width="1.25" stroke-linejoin="round"/>
</g>
<line x1="494.4" y1="98.7" x2="650.4" y2="98.7" stroke="#7c7c7c" stroke-width="1.05" stroke-dasharray="3.85,1.51"/>
<polyline clip-path="url(#clipc)" points="494.4,177.7 560.0,177.0 590.0,176.2 610.0,175.3 620.0,174.6 630.0,172.6 637.1,169.6 642.1,165.1 644.6,160.0 646.1,155.0 647.1,150.0 648.4,140.0 649.2,134.0 650.0,110.5 650.2,90.0 650.3,41.4" fill="none" stroke="#767676" stroke-width="1.45" stroke-dasharray="5.25,2.27"/>
<rect x="494.4" y="12.2" width="156" height="173" fill="none" stroke="#8e8e8e" stroke-width="1.2"/>
<line x1="494.4" y1="185.2" x2="496.6" y2="185.2" stroke="#555" stroke-width="0.9"/>
<line x1="494.4" y1="177.99" x2="496" y2="177.99" stroke="#555" stroke-width="0.9"/>
<line x1="494.4" y1="170.78" x2="496" y2="170.78" stroke="#555" stroke-width="0.9"/>
<line x1="494.4" y1="163.57" x2="496" y2="163.57" stroke="#555" stroke-width="0.9"/>
<line x1="494.4" y1="156.37" x2="496.6" y2="156.37" stroke="#555" stroke-width="0.9"/>
<line x1="494.4" y1="149.16" x2="496" y2="149.16" stroke="#555" stroke-width="0.9"/>
<line x1="494.4" y1="141.95" x2="496" y2="141.95" stroke="#555" stroke-width="0.9"/>
<line x1="494.4" y1="134.74" x2="496" y2="134.74" stroke="#555" stroke-width="0.9"/>
<line x1="494.4" y1="127.53" x2="496.6" y2="127.53" stroke="#555" stroke-width="0.9"/>
<line x1="494.4" y1="120.33" x2="496" y2="120.33" stroke="#555" stroke-width="0.9"/>
<line x1="494.4" y1="113.12" x2="496" y2="113.12" stroke="#555" stroke-width="0.9"/>
<line x1="494.4" y1="105.91" x2="496" y2="105.91" stroke="#555" stroke-width="0.9"/>
<line x1="494.4" y1="98.7" x2="496.6" y2="98.7" stroke="#555" stroke-width="0.9"/>
<line x1="494.4" y1="91.49" x2="496" y2="91.49" stroke="#555" stroke-width="0.9"/>
<line x1="494.4" y1="84.28" x2="496" y2="84.28" stroke="#555" stroke-width="0.9"/>
<line x1="494.4" y1="77.08" x2="496" y2="77.08" stroke="#555" stroke-width="0.9"/>
<line x1="494.4" y1="69.87" x2="496.6" y2="69.87" stroke="#555" stroke-width="0.9"/>
<line x1="494.4" y1="62.66" x2="496" y2="62.66" stroke="#555" stroke-width="0.9"/>
<line x1="494.4" y1="55.45" x2="496" y2="55.45" stroke="#555" stroke-width="0.9"/>
<line x1="494.4" y1="48.24" x2="496" y2="48.24" stroke="#555" stroke-width="0.9"/>
<line x1="494.4" y1="41.03" x2="496.6" y2="41.03" stroke="#555" stroke-width="0.9"/>
<line x1="494.4" y1="33.83" x2="496" y2="33.83" stroke="#555" stroke-width="0.9"/>
<line x1="494.4" y1="26.62" x2="496" y2="26.62" stroke="#555" stroke-width="0.9"/>
<line x1="494.4" y1="19.41" x2="496" y2="19.41" stroke="#555" stroke-width="0.9"/>
<line x1="494.4" y1="12.2" x2="496.6" y2="12.2" stroke="#555" stroke-width="0.9"/>
<text x="492.6" y="188.6" text-anchor="end" class="tk">60</text>
<line x1="474.9" y1="185.8" x2="481" y2="185.8" stroke="#2a2a2a" stroke-width="0.95"/>
<text x="492.6" y="159.77" text-anchor="end" class="tk">40</text>
<line x1="474.9" y1="156.97" x2="481" y2="156.97" stroke="#2a2a2a" stroke-width="0.95"/>
<text x="492.6" y="130.93" text-anchor="end" class="tk">20</text>
<line x1="474.9" y1="128.13" x2="481" y2="128.13" stroke="#2a2a2a" stroke-width="0.95"/>
<text x="492.6" y="102.1" text-anchor="end" class="tk">0</text>
<text x="492.6" y="73.27" text-anchor="end" class="tk">20</text>
<text x="492.6" y="44.43" text-anchor="end" class="tk">40</text>
<text x="492.6" y="15.6" text-anchor="end" class="tk">60</text>
<line x1="494.4" y1="185.2" x2="494.4" y2="182.8" stroke="#555" stroke-width="0.9"/>
<text x="494.4" y="193" text-anchor="middle" class="tk">0</text>
<line x1="525.6" y1="185.2" x2="525.6" y2="182.8" stroke="#555" stroke-width="0.9"/>
<text x="525.6" y="193" text-anchor="middle" class="tk">20</text>
<line x1="556.8" y1="185.2" x2="556.8" y2="182.8" stroke="#555" stroke-width="0.9"/>
<text x="556.8" y="193" text-anchor="middle" class="tk">40</text>
<line x1="588" y1="185.2" x2="588" y2="182.8" stroke="#555" stroke-width="0.9"/>
<text x="588" y="193" text-anchor="middle" class="tk">60</text>
<line x1="619.2" y1="185.2" x2="619.2" y2="182.8" stroke="#555" stroke-width="0.9"/>
<text x="619.2" y="193" text-anchor="middle" class="tk">80</text>
<line x1="650.4" y1="185.2" x2="650.4" y2="182.8" stroke="#555" stroke-width="0.9"/>
<text x="650.4" y="193" text-anchor="middle" class="tk">100</text>
<line x1="650.4" y1="177.7" x2="648.2" y2="177.7" stroke="#555" stroke-width="0.9"/>
<text x="652" y="181.1" class="tk">0</text>
<line x1="650.4" y1="153.5" x2="648.2" y2="153.5" stroke="#555" stroke-width="0.9"/>
<text x="652" y="156.9" class="tk">100</text>
<line x1="650.4" y1="129.3" x2="648.2" y2="129.3" stroke="#555" stroke-width="0.9"/>
<text x="652" y="132.7" class="tk">200</text>
<line x1="650.4" y1="105.1" x2="648.2" y2="105.1" stroke="#555" stroke-width="0.9"/>
<text x="652" y="108.5" class="tk">300</text>
<line x1="650.4" y1="80.9" x2="648.2" y2="80.9" stroke="#555" stroke-width="0.9"/>
<text x="652" y="84.3" class="tk">400</text>
<line x1="650.4" y1="56.7" x2="648.2" y2="56.7" stroke="#555" stroke-width="0.9"/>
<text x="652" y="60.1" class="tk">500</text>
<line x1="650.4" y1="32.5" x2="648.2" y2="32.5" stroke="#555" stroke-width="0.9"/>
<text x="652" y="35.9" class="tk">600</text>
<text x="573" y="9.7" text-anchor="middle" class="ti" textLength="47.5" lengthAdjust="spacingAndGlyphs">Northern</text>
<text x="500" y="9.6" class="lt" textLength="6.5" lengthAdjust="spacingAndGlyphs">c</text>
<text x="572.4" y="203.6" text-anchor="middle" class="lb" textLength="44.3" lengthAdjust="spacingAndGlyphs">Percentile</text>
<text transform="translate(470.5,98.7) rotate(-90)" text-anchor="middle" class="lb" textLength="88.8" lengthAdjust="spacingAndGlyphs">Relative change (%)</text>
<text transform="translate(678.9,98.7) rotate(-90)" text-anchor="middle" class="lb" textLength="101.5" lengthAdjust="spacingAndGlyphs">Flood extent (10<tspan dy="-4.0" font-size="6.8">3</tspan><tspan dy="4.0"> </tspan><tspan font-style="italic">km</tspan><tspan dy="-4.0" font-size="6.8">2</tspan><tspan dy="4.0">)</tspan></text>
<clipPath id="clipd"><rect x="32.5" y="225.3" width="156.20" height="173.50"/></clipPath>
<g clip-path="url(#clipd)">
<polygon points="32.5,311.5 34.1,311.4 35.8,312.3 37.4,311.3 39.1,312.2 40.7,312.4 42.4,312.4 44.0,312.5 45.7,311.9 47.4,313.2 49.1,311.7 50.8,312.2 52.5,312.1 54.2,312.6 55.9,312.5 57.8,312.8 59.7,311.7 61.6,311.4 63.5,311.6 65.4,310.9 67.8,309.2 70.2,307.9 72.0,306.7 73.8,306.1 75.8,306.0 77.8,307.3 79.8,307.9 81.5,308.3 83.3,307.3 85.0,306.7 86.9,306.5 88.8,307.0 90.7,305.9 92.6,306.1 94.5,305.7 96.4,305.5 98.3,304.6 100.3,303.7 102.2,304.2 104.1,303.4 106.0,302.8 107.9,302.1 109.8,301.8 111.7,302.1 113.6,301.9 115.2,301.1 116.8,300.4 118.4,301.4 120.0,300.3 121.6,300.0 123.2,299.5 125.6,300.2 127.9,300.5 129.7,300.1 131.4,301.3 133.2,300.7 134.9,301.6 136.7,301.0 138.4,300.9 140.1,299.6 141.7,299.6 143.4,298.4 145.1,298.0 146.8,297.2 148.4,298.3 150.1,297.6 151.8,296.1 153.4,295.7 155.0,295.7 156.7,294.3 158.4,294.7 160.1,295.3 161.8,295.1 163.4,293.8 165.1,293.4 166.0,298.0 166.8,287.3 168.9,275.9 170.3,274.4 171.8,275.9 173.9,273.0 176.1,265.8 178.2,257.2 179.7,248.6 181.1,240.0 182.1,230.0 182.9,225.3 184.8,225.9 186.8,225.3 188.7,225.3 188.7,345.0 187.0,340.0 186.4,331.7 185.9,327.5 184.9,323.3 183.8,321.2 182.8,320.1 181.2,317.0 179.1,313.8 177.0,313.3 174.9,314.4 172.8,317.0 171.2,319.8 169.6,321.2 167.5,320.3 165.4,320.1 162.3,318.6 160.7,320.1 159.1,320.7 156.0,319.1 153.4,323.5 151.7,322.3 150.1,320.9 148.4,320.9 146.7,319.3 145.1,318.4 143.4,316.0 141.7,316.7 140.1,315.9 138.4,317.0 136.7,316.8 135.0,316.3 133.3,317.6 131.7,318.2 130.0,317.7 128.3,318.8 126.6,319.5 124.9,321.0 123.2,322.4 120.8,322.5 118.4,321.5 116.7,321.9 115.1,323.0 113.4,324.2 111.7,324.4 109.8,325.2 107.9,324.2 106.0,324.5 104.1,325.3 102.2,325.8 100.3,324.5 98.3,324.9 96.4,326.1 94.5,325.3 92.6,325.1 90.7,324.0 88.8,324.6 86.9,324.0 85.0,323.4 82.1,325.8 79.8,326.2 77.4,328.2 75.6,328.4 73.8,327.0 71.8,327.0 69.8,326.9 67.8,325.8 65.8,325.6 63.9,326.1 61.9,325.8 59.9,325.6 57.9,324.8 55.9,324.6 53.9,323.9 51.9,323.0 49.9,321.6 47.9,321.8 46.0,319.7 44.0,319.9 42.0,319.6 40.0,317.2 38.0,316.9 36.2,315.1 34.3,314.5 32.5,313.5" fill="#d4e4f3"/>
<polygon points="32.5,312.2 34.1,312.9 35.8,312.1 37.4,312.5 39.1,313.0 40.7,313.4 42.4,313.4 44.0,313.9 45.7,313.6 47.4,314.2 49.1,313.6 50.8,314.8 52.5,314.9 54.2,315.0 55.9,314.5 57.6,315.0 59.3,313.9 61.0,314.5 62.7,314.3 64.4,314.0 66.1,314.0 67.8,313.9 69.5,314.6 71.2,313.9 72.9,313.9 74.7,314.9 76.4,314.3 78.1,315.5 79.8,315.1 81.5,314.4 83.2,314.7 84.9,314.3 86.6,314.7 88.3,314.4 90.0,314.3 91.7,313.9 93.5,313.8 95.2,314.2 97.0,313.4 98.8,314.2 100.6,314.1 102.3,313.8 104.1,313.9 106.0,313.8 107.9,312.5 109.8,312.3 111.7,312.7 113.6,311.9 115.5,310.8 117.4,309.5 119.4,309.2 121.3,308.1 123.2,307.2 125.1,305.3 126.7,305.6 128.4,305.8 130.0,306.8 131.7,306.9 133.3,306.7 135.0,305.8 136.7,306.0 138.4,305.4 140.1,304.8 141.7,304.8 143.4,304.3 145.1,304.4 146.8,303.1 148.4,303.0 150.1,302.6 151.8,302.4 153.4,301.5 155.0,300.4 156.7,300.1 158.4,300.0 160.1,299.7 161.7,298.9 163.4,299.3 165.4,298.2 167.5,297.0 170.3,293.1 173.2,287.3 176.1,283.0 179.0,273.0 181.8,261.5 183.3,248.6 184.7,245.7 186.1,254.3 186.8,268.7 187.5,290.0 187.9,320.0 187.9,338.0 187.5,335.0 186.0,322.0 184.5,318.0 182.8,310.0 180.0,305.0 177.0,304.0 175.2,305.3 173.5,306.0 171.7,306.5 170.0,307.9 168.2,308.0 166.5,309.6 164.8,309.4 163.0,308.8 161.2,309.1 159.5,308.4 157.8,308.7 156.0,308.6 154.0,309.2 152.0,310.1 150.0,311.0 148.3,312.3 146.7,312.1 145.1,313.5 143.4,314.0 141.7,315.0 140.0,315.5 138.4,317.1 136.7,317.5 135.0,318.6 133.3,318.9 131.6,318.6 129.9,318.9 128.3,319.1 126.6,319.2 124.9,319.9 123.2,319.6 121.6,319.6 120.0,319.8 118.4,319.5 116.8,320.0 115.2,320.8 113.6,320.5 111.7,320.5 109.8,320.8 107.9,321.8 106.0,322.0 104.1,322.0 102.2,321.8 100.3,322.5 98.3,322.1 96.4,322.6 94.5,322.4 92.6,322.0 90.7,322.5 88.8,321.5 86.9,321.4 85.0,321.5 83.3,321.9 81.5,323.1 79.8,323.5 77.8,324.3 75.8,324.0 73.8,324.5 71.8,324.8 69.8,325.4 67.8,325.0 65.8,324.4 63.9,325.0 61.9,324.5 59.9,324.2 57.9,324.3 55.9,323.5 53.9,322.7 51.9,321.5 49.9,319.9 47.9,319.0 46.0,319.0 44.0,318.1 42.0,317.7 40.0,317.1 38.0,315.7 36.2,315.0 34.3,314.0 32.5,313.0" fill="#a8c7e6"/>
<polyline points="32.5,312.6 34.4,313.3 36.2,313.6 38.1,314.0 40.0,314.5 41.7,314.4 43.3,314.7 45.0,315.1 46.7,314.7 48.3,315.2 50.0,315.2 51.7,315.8 53.3,315.6 55.0,315.8 56.7,315.4 58.3,315.6 60.0,316.1 61.7,315.6 63.3,316.0 65.0,315.7 66.7,315.5 68.3,315.2 70.0,315.5 71.7,315.7 73.3,315.6 75.0,315.1 76.7,315.9 78.3,315.6 80.0,315.6 81.7,315.7 83.3,315.2 85.0,315.5 86.7,315.6 88.5,315.3 90.2,315.6 91.9,315.6 93.6,316.0 95.4,315.4 97.1,315.9 98.8,315.7 100.5,315.9 102.3,315.7 104.0,316.0 105.8,315.7 107.7,316.0 109.5,315.7 111.3,315.5 113.2,314.7 115.0,314.8 116.7,314.3 118.3,314.7 120.0,314.1 121.7,313.9 123.3,313.8 125.0,313.5 126.7,313.2 128.3,313.6 130.0,313.1 131.7,313.3 133.3,313.2 135.0,313.2 136.7,312.9 138.3,313.0 140.0,313.5 141.7,313.3 143.3,312.2 145.0,312.4 146.7,311.5 148.4,310.9 150.0,311.1 151.7,310.5 153.4,310.5 155.0,310.0 156.7,309.5 158.4,308.8 160.1,308.7 161.7,308.7 163.4,308.0 165.1,307.2 166.8,307.6 168.4,306.5 170.1,306.5 172.2,305.4 174.3,303.5 176.8,296.0 178.4,292.4 180.1,289.0 181.8,286.5 183.5,284.0 186.0,291.0 188.0,308.0" fill="none" stroke="#4276bd" stroke-width="1.1" stroke-dasharray="1.1,1.8"/>
<polyline points="32.5,312.4 34.4,312.6 36.2,312.9 38.1,313.9 40.0,314.0 41.7,314.5 43.3,314.3 45.0,314.0 46.7,314.1 48.3,314.1 50.0,314.6 51.7,315.1 53.3,314.6 55.0,315.0 56.7,314.7 58.3,315.1 60.0,315.4 61.7,314.6 63.3,314.7 65.0,314.9 66.7,314.6 68.3,315.2 70.0,315.0 71.7,314.8 73.3,314.8 75.0,315.1 76.7,315.2 78.3,315.0 80.0,315.2 81.7,314.9 83.3,315.2 85.0,314.8 86.7,314.9 88.5,314.6 90.2,315.0 91.9,314.9 93.6,315.1 95.4,314.7 97.1,315.3 98.8,315.4 100.5,315.5 102.3,315.5 104.0,315.3 105.8,315.2 107.7,315.2 109.5,315.0 111.3,314.1 113.2,314.2 115.0,314.0 116.7,314.2 118.3,313.1 120.0,312.9 121.7,313.1 123.3,313.1 125.0,312.5 126.7,312.4 128.3,312.4 130.0,312.4 131.7,311.9 133.3,311.9 135.0,312.3 136.7,312.5 138.3,312.8 140.0,312.6 141.7,312.1 143.3,311.4 145.0,311.1 146.7,310.1 148.4,310.1 150.0,309.5 151.7,309.6 153.4,309.1 155.0,308.8 156.7,308.5 158.4,308.1 160.1,307.5 161.7,307.2 163.4,306.8 165.1,306.0 166.8,306.1 168.4,305.2 170.1,305.1 172.2,303.6 174.3,301.8 176.8,293.4 178.4,290.4 180.1,286.7 181.8,284.3 183.5,281.7 186.0,288.4 188.0,305.0" fill="none" stroke="#4276bd" stroke-width="1.15" stroke-dasharray="3.7,1.9"/>
<polyline points="32.5,312.4 34.5,312.9 36.5,313.6 38.5,314.5 40.5,315.1 42.5,315.6 44.5,316.3 46.5,316.9 48.4,316.8 50.4,317.2 52.4,317.0 54.4,317.8 56.4,317.5 58.4,317.9 60.3,318.7 62.3,318.7 64.3,318.4 66.3,318.1 68.3,317.5 70.3,317.2 72.3,317.3 74.3,317.5 76.3,317.7 78.2,318.4 80.2,318.7 82.6,318.5 85.0,318.6 86.9,318.6 88.8,319.6 90.7,319.4 92.6,320.2 94.5,320.1 96.4,320.3 98.3,320.8 100.3,320.6 102.2,321.0 104.1,321.0 105.7,320.1 107.3,320.0 108.9,319.1 111.2,318.5 113.6,318.1 115.2,317.7 116.8,317.6 118.4,317.2 120.3,316.5 122.2,316.5 124.1,316.4 126.0,315.8 127.6,314.6 129.2,314.3 130.8,313.4 132.9,312.3 135.0,311.5 136.7,310.9 138.3,310.1 140.0,309.3 141.7,308.9 143.3,307.7 145.0,306.6 146.7,306.0 148.4,305.4 150.0,304.3 151.7,303.5 153.4,302.5 155.0,301.1 156.7,299.3 158.4,299.7 160.1,301.0 161.8,301.8 163.4,302.6 165.1,301.3 166.8,300.1 168.4,299.2 170.1,298.4 173.2,294.5 175.3,291.5 177.5,288.8 180.4,283.0 182.5,278.7 184.0,279.5 185.4,281.6 186.4,288.8 186.9,310.0 187.2,330.0 187.4,340.0" fill="none" stroke="#4276bd" stroke-width="1.25" stroke-linejoin="round"/>
</g>
<line x1="32.5" y1="312.05" x2="188.7" y2="312.05" stroke="#7c7c7c" stroke-width="1.05" stroke-dasharray="3.85,1.51"/>
<polyline clip-path="url(#clipd)" points="32.5,391.0 130.0,390.8 146.0,390.5 159.4,389.9 172.7,388.4 178.1,387.1 181.4,384.8 183.7,381.5 185.0,377.4 185.7,373.4 186.1,366.7 186.5,360.1 186.9,353.4 187.2,346.7 187.5,340.0 187.8,320.0 188.0,295.0 188.2,268.0" fill="none" stroke="#767676" stroke-width="1.45" stroke-dasharray="5.25,2.27"/>
<rect x="32.5" y="225.3" width="156.2" height="173.5" fill="none" stroke="#8e8e8e" stroke-width="1.2"/>
<line x1="32.5" y1="398.8" x2="34.7" y2="398.8" stroke="#555" stroke-width="0.9"/>
<line x1="32.5" y1="391.57" x2="34.1" y2="391.57" stroke="#555" stroke-width="0.9"/>
<line x1="32.5" y1="384.34" x2="34.1" y2="384.34" stroke="#555" stroke-width="0.9"/>
<line x1="32.5" y1="377.11" x2="34.1" y2="377.11" stroke="#555" stroke-width="0.9"/>
<line x1="32.5" y1="369.88" x2="34.7" y2="369.88" stroke="#555" stroke-width="0.9"/>
<line x1="32.5" y1="362.65" x2="34.1" y2="362.65" stroke="#555" stroke-width="0.9"/>
<line x1="32.5" y1="355.43" x2="34.1" y2="355.43" stroke="#555" stroke-width="0.9"/>
<line x1="32.5" y1="348.2" x2="34.1" y2="348.2" stroke="#555" stroke-width="0.9"/>
<line x1="32.5" y1="340.97" x2="34.7" y2="340.97" stroke="#555" stroke-width="0.9"/>
<line x1="32.5" y1="333.74" x2="34.1" y2="333.74" stroke="#555" stroke-width="0.9"/>
<line x1="32.5" y1="326.51" x2="34.1" y2="326.51" stroke="#555" stroke-width="0.9"/>
<line x1="32.5" y1="319.28" x2="34.1" y2="319.28" stroke="#555" stroke-width="0.9"/>
<line x1="32.5" y1="312.05" x2="34.7" y2="312.05" stroke="#555" stroke-width="0.9"/>
<line x1="32.5" y1="304.82" x2="34.1" y2="304.82" stroke="#555" stroke-width="0.9"/>
<line x1="32.5" y1="297.59" x2="34.1" y2="297.59" stroke="#555" stroke-width="0.9"/>
<line x1="32.5" y1="290.36" x2="34.1" y2="290.36" stroke="#555" stroke-width="0.9"/>
<line x1="32.5" y1="283.13" x2="34.7" y2="283.13" stroke="#555" stroke-width="0.9"/>
<line x1="32.5" y1="275.9" x2="34.1" y2="275.9" stroke="#555" stroke-width="0.9"/>
<line x1="32.5" y1="268.68" x2="34.1" y2="268.68" stroke="#555" stroke-width="0.9"/>
<line x1="32.5" y1="261.45" x2="34.1" y2="261.45" stroke="#555" stroke-width="0.9"/>
<line x1="32.5" y1="254.22" x2="34.7" y2="254.22" stroke="#555" stroke-width="0.9"/>
<line x1="32.5" y1="246.99" x2="34.1" y2="246.99" stroke="#555" stroke-width="0.9"/>
<line x1="32.5" y1="239.76" x2="34.1" y2="239.76" stroke="#555" stroke-width="0.9"/>
<line x1="32.5" y1="232.53" x2="34.1" y2="232.53" stroke="#555" stroke-width="0.9"/>
<line x1="32.5" y1="225.3" x2="34.7" y2="225.3" stroke="#555" stroke-width="0.9"/>
<text x="30.7" y="402.2" text-anchor="end" class="tk">60</text>
<line x1="13" y1="399.4" x2="19.1" y2="399.4" stroke="#2a2a2a" stroke-width="0.95"/>
<text x="30.7" y="373.28" text-anchor="end" class="tk">40</text>
<line x1="13" y1="370.48" x2="19.1" y2="370.48" stroke="#2a2a2a" stroke-width="0.95"/>
<text x="30.7" y="344.37" text-anchor="end" class="tk">20</text>
<line x1="13" y1="341.57" x2="19.1" y2="341.57" stroke="#2a2a2a" stroke-width="0.95"/>
<text x="30.7" y="315.45" text-anchor="end" class="tk">0</text>
<text x="30.7" y="286.53" text-anchor="end" class="tk">20</text>
<text x="30.7" y="257.62" text-anchor="end" class="tk">40</text>
<text x="30.7" y="228.7" text-anchor="end" class="tk">60</text>
<line x1="32.5" y1="398.8" x2="32.5" y2="396.4" stroke="#555" stroke-width="0.9"/>
<text x="32.5" y="406.6" text-anchor="middle" class="tk">0</text>
<line x1="63.74" y1="398.8" x2="63.74" y2="396.4" stroke="#555" stroke-width="0.9"/>
<text x="63.74" y="406.6" text-anchor="middle" class="tk">20</text>
<line x1="94.98" y1="398.8" x2="94.98" y2="396.4" stroke="#555" stroke-width="0.9"/>
<text x="94.98" y="406.6" text-anchor="middle" class="tk">40</text>
<line x1="126.22" y1="398.8" x2="126.22" y2="396.4" stroke="#555" stroke-width="0.9"/>
<text x="126.22" y="406.6" text-anchor="middle" class="tk">60</text>
<line x1="157.46" y1="398.8" x2="157.46" y2="396.4" stroke="#555" stroke-width="0.9"/>
<text x="157.46" y="406.6" text-anchor="middle" class="tk">80</text>
<line x1="188.7" y1="398.8" x2="188.7" y2="396.4" stroke="#555" stroke-width="0.9"/>
<text x="188.7" y="406.6" text-anchor="middle" class="tk">100</text>
<line x1="188.7" y1="391" x2="186.5" y2="391" stroke="#555" stroke-width="0.9"/>
<text x="190.3" y="394.4" class="tk">0</text>
<line x1="188.7" y1="367.1" x2="186.5" y2="367.1" stroke="#555" stroke-width="0.9"/>
<text x="190.3" y="370.5" class="tk">250</text>
<line x1="188.7" y1="343.2" x2="186.5" y2="343.2" stroke="#555" stroke-width="0.9"/>
<text x="190.3" y="346.6" class="tk">500</text>
<line x1="188.7" y1="319.3" x2="186.5" y2="319.3" stroke="#555" stroke-width="0.9"/>
<text x="190.3" y="322.7" class="tk">750</text>
<line x1="188.7" y1="295.4" x2="186.5" y2="295.4" stroke="#555" stroke-width="0.9"/>
<text x="190.3" y="298.8" class="tk">1000</text>
<line x1="188.7" y1="271.5" x2="186.5" y2="271.5" stroke="#555" stroke-width="0.9"/>
<text x="190.3" y="274.9" class="tk">1250</text>
<line x1="188.7" y1="247.6" x2="186.5" y2="247.6" stroke="#555" stroke-width="0.9"/>
<text x="190.3" y="251" class="tk">1500</text>
<text x="110.8" y="222.8" text-anchor="middle" class="ti" textLength="61.5" lengthAdjust="spacingAndGlyphs">Continental</text>
<text x="33.9" y="223.9" class="lt" textLength="7.4" lengthAdjust="spacingAndGlyphs">d</text>
<text x="110.6" y="417.3" text-anchor="middle" class="lb" textLength="44.3" lengthAdjust="spacingAndGlyphs">Percentile</text>
<text transform="translate(8.6,312.05) rotate(-90)" text-anchor="middle" class="lb" textLength="88.8" lengthAdjust="spacingAndGlyphs">Relative change (%)</text>
<text transform="translate(222.7,312.05) rotate(-90)" text-anchor="middle" class="lb" textLength="101.5" lengthAdjust="spacingAndGlyphs">Flood extent (10<tspan dy="-4.0" font-size="6.8">3</tspan><tspan dy="4.0"> </tspan><tspan font-style="italic">km</tspan><tspan dy="-4.0" font-size="6.8">2</tspan><tspan dy="4.0">)</tspan></text>
<clipPath id="clipe"><rect x="265.4" y="225.4" width="156.80" height="173.60"/></clipPath>
<g clip-path="url(#clipe)">
<polygon points="265.4,310.6 267.0,310.3 268.7,308.8 270.3,308.6 272.0,307.6 273.8,304.8 275.5,303.4 277.3,303.7 279.0,305.5 280.8,305.4 282.5,305.6 284.3,305.7 286.0,306.7 287.8,306.6 289.5,306.5 291.3,306.0 293.0,305.1 294.8,304.9 296.5,304.7 298.1,303.4 299.8,301.4 301.5,302.3 303.1,303.4 304.8,303.0 306.6,303.5 308.3,304.7 310.1,304.9 311.8,303.7 313.6,303.4 315.4,304.8 317.1,305.5 318.9,306.0 320.6,306.8 322.4,306.7 324.1,307.3 325.9,307.3 327.6,308.2 329.4,308.6 331.1,307.4 332.9,308.3 334.6,307.3 336.4,307.4 338.2,307.0 340.0,306.7 341.8,306.0 343.6,305.1 345.4,303.3 347.2,302.2 349.0,302.2 350.8,301.8 352.5,302.2 354.3,302.2 356.1,301.4 357.9,301.3 359.7,302.4 361.5,302.1 363.3,303.0 365.1,303.1 366.9,301.7 368.6,301.9 370.4,300.9 372.2,299.6 374.0,299.0 375.8,299.0 377.6,298.2 379.4,298.7 381.2,298.3 383.0,298.1 384.8,298.3 386.6,298.7 388.4,297.6 390.1,298.4 391.9,297.4 393.7,296.9 395.5,297.1 397.3,296.0 399.1,294.9 400.9,293.3 402.7,291.9 404.5,291.5 406.3,290.4 408.1,289.7 410.7,295.1 413.4,296.0 416.1,291.5 418.8,287.9 420.6,285.2 422.2,283.0 422.2,330.0 421.5,327.3 418.8,325.5 417.0,323.7 415.2,325.3 413.4,325.5 411.6,325.5 409.9,327.3 408.1,327.3 406.0,327.1 403.9,329.1 401.8,329.1 399.6,327.6 397.3,327.3 395.5,325.0 393.7,321.9 391.9,321.7 390.1,320.9 388.4,320.3 386.6,320.2 384.8,319.4 383.0,319.5 381.2,320.2 379.4,319.3 377.6,319.9 375.8,319.6 374.0,319.9 372.2,320.2 370.4,320.4 368.6,320.9 366.9,320.2 365.1,321.0 363.3,319.9 361.5,319.7 359.7,320.5 357.9,318.7 356.1,318.4 354.3,318.4 352.5,318.0 350.8,319.1 349.0,319.7 347.2,319.3 345.5,319.0 343.8,319.7 342.0,320.0 340.3,319.3 338.6,319.5 336.8,319.6 335.1,320.3 333.3,320.5 331.6,320.9 329.8,322.1 328.1,322.4 326.1,321.9 324.1,321.1 322.4,320.3 320.6,320.7 318.9,319.8 317.1,320.0 315.4,319.2 313.6,318.5 311.8,317.6 310.1,318.3 308.3,317.2 306.7,316.4 305.1,316.3 303.4,316.6 301.8,316.5 300.0,317.5 298.3,316.7 296.5,317.8 294.8,318.1 293.0,319.1 291.3,319.2 289.5,318.5 287.8,319.3 286.0,318.5 284.3,317.9 282.5,316.6 280.8,316.5 279.0,316.1 277.3,315.0 275.5,313.2 273.8,314.4 272.0,314.7 270.3,315.2 268.7,315.5 267.0,314.6 265.4,313.9" fill="#f1d0d0"/>
<polygon points="265.4,311.0 267.0,310.7 268.7,310.8 270.4,310.1 272.0,310.1 273.6,310.1 275.3,310.1 277.0,310.6 278.6,310.0 280.2,309.5 281.9,310.1 283.6,310.7 285.2,310.6 286.9,311.0 288.5,309.9 290.2,310.5 291.8,310.7 293.5,310.6 295.1,310.6 296.8,310.1 298.5,309.8 300.1,309.2 301.8,308.6 303.5,307.4 305.3,307.4 307.0,306.0 308.8,305.3 310.5,304.6 312.3,304.7 314.0,304.9 315.8,306.6 317.5,306.7 319.1,307.2 320.8,308.1 322.4,308.0 324.0,308.6 325.7,308.6 327.4,308.7 329.0,309.2 330.7,309.3 332.6,309.4 334.4,310.0 336.3,309.3 338.1,309.8 340.0,309.5 341.8,309.2 343.6,309.6 345.4,309.3 347.1,309.0 348.9,309.2 350.7,308.5 352.5,308.9 354.3,307.6 356.1,307.9 357.9,307.3 359.7,307.8 361.5,307.6 363.3,307.8 365.1,307.1 366.9,307.0 368.6,306.7 370.4,305.6 372.2,305.8 374.0,305.3 375.8,304.7 377.6,304.6 379.4,304.5 381.2,303.6 383.0,303.1 384.8,303.6 386.6,304.5 388.4,304.4 390.1,305.1 391.9,305.5 393.7,306.7 395.5,304.7 397.3,303.1 399.1,301.4 400.9,299.6 402.7,299.1 404.5,298.2 406.3,296.9 408.1,297.6 409.8,298.3 411.6,299.6 413.4,300.0 415.2,300.2 417.0,301.3 418.8,297.6 420.6,293.3 422.2,290.0 422.2,318.0 420.6,316.6 418.8,315.3 417.0,314.8 415.2,313.4 413.4,311.5 411.6,310.3 409.8,310.5 408.1,309.1 406.3,309.4 404.5,311.1 402.7,311.9 400.9,313.0 399.1,313.3 397.3,314.0 395.5,314.6 393.7,315.7 391.9,315.9 390.1,315.9 388.4,314.9 386.6,315.2 384.8,315.1 383.0,314.8 381.2,314.9 379.4,315.0 377.6,314.1 375.8,314.3 374.0,314.1 372.2,313.9 370.4,313.8 368.6,313.8 366.9,314.5 365.1,314.9 363.3,314.7 361.5,314.8 359.7,314.2 357.9,314.5 356.1,315.2 354.3,314.4 352.5,314.7 350.7,314.8 348.9,314.8 347.1,314.6 345.4,315.2 343.6,314.5 341.8,314.2 340.0,314.8 338.1,315.1 336.3,314.4 334.4,314.8 332.6,314.8 330.7,314.6 329.0,314.6 327.4,315.1 325.7,315.8 324.0,316.5 322.4,316.9 320.8,316.3 319.1,315.9 317.5,315.9 315.9,315.3 314.3,315.0 312.7,314.4 311.1,314.5 309.5,313.8 307.9,314.2 306.3,313.6 304.7,313.2 303.1,313.8 301.5,314.0 299.9,313.2 298.2,313.7 296.6,314.6 295.0,313.8 293.4,314.3 291.8,314.6 290.2,314.3 288.5,314.3 286.9,314.8 285.2,314.5 283.6,314.2 281.9,314.2 280.2,313.8 278.6,313.9 277.0,313.7 275.3,313.8 273.6,314.0 272.0,314.1 270.4,313.4 268.7,313.5 267.0,313.7 265.4,313.5" fill="#dca2a2"/>
<polyline points="265.4,312.7 267.0,312.4 268.6,312.8 270.3,312.9 271.9,312.8 273.5,313.4 275.1,313.3 276.8,313.5 278.4,313.0 280.0,313.2 281.7,313.6 283.3,313.1 285.0,313.5 286.7,313.3 288.3,312.6 290.0,313.3 291.7,312.9 293.3,313.2 295.0,312.7 296.7,313.2 298.3,313.2 300.0,312.8 301.7,313.1 303.3,313.1 305.0,312.6 306.7,312.9 308.3,313.0 310.0,313.0 311.7,312.5 313.3,312.2 315.0,312.9 316.7,312.1 318.3,312.8 320.0,312.5 321.7,312.9 323.3,312.9 325.0,312.6 326.7,312.7 328.3,313.4 330.0,313.4 331.7,313.3 333.3,313.7 335.0,314.1 336.7,313.7 338.3,314.2 340.0,314.2 341.6,314.4 343.3,313.8 344.9,314.5 346.5,314.4 348.1,314.6 349.8,314.3 351.4,314.2 353.0,314.1 354.6,314.5 356.3,314.1 357.9,314.2 359.5,314.5 361.2,314.5 362.8,314.0 364.4,314.1 366.0,314.5 367.7,314.3 369.3,313.7 370.9,313.5 372.5,314.2 374.2,314.0 375.8,313.8 377.6,314.3 379.4,314.4 381.2,314.8 383.0,315.0 384.8,315.0 386.6,314.6 388.4,313.9 390.1,313.5 391.9,313.6 393.7,313.0 395.5,312.1 397.3,311.2 399.1,310.6 400.9,310.0 402.7,309.4 404.5,308.2 406.3,307.0 408.1,307.8 409.8,308.5 411.6,309.0 413.4,309.8 415.2,311.6 417.0,312.5 419.0,310.2 421.0,308.0" fill="none" stroke="#9c2426" stroke-width="1.1" stroke-dasharray="1.1,1.8"/>
<polyline points="265.4,312.5 267.0,312.2 268.6,312.9 270.3,312.5 271.9,312.7 273.5,313.0 275.1,312.8 276.8,312.9 278.4,313.1 280.0,312.8 281.7,312.5 283.3,312.5 285.0,312.3 286.7,312.4 288.3,312.8 290.0,312.5 291.7,312.4 293.3,312.6 295.0,311.8 296.7,312.2 298.3,312.3 300.0,312.0 301.7,312.4 303.3,312.1 305.0,312.1 306.7,311.8 308.3,311.5 310.0,312.1 311.7,311.4 313.3,312.1 315.0,311.6 316.7,311.6 318.3,311.5 320.0,311.5 321.7,311.6 323.3,312.3 325.0,312.1 326.7,312.7 328.3,312.9 330.0,312.4 331.7,313.0 333.3,313.5 335.0,313.3 336.7,313.1 338.3,314.1 340.0,313.9 341.6,313.7 343.3,313.6 344.9,313.9 346.5,314.1 348.1,314.1 349.8,313.6 351.4,314.1 353.0,314.3 354.6,313.5 356.3,313.7 357.9,313.9 359.5,313.5 361.2,313.5 362.8,314.0 364.4,313.2 366.0,313.9 367.7,313.1 369.3,313.6 370.9,313.5 372.5,313.2 374.2,313.3 375.8,313.0 377.6,313.4 379.4,313.7 381.2,313.7 383.0,314.7 384.8,314.8 386.6,314.2 388.4,313.4 390.1,313.0 391.9,312.3 393.7,312.1 395.5,311.6 397.3,309.9 399.1,309.3 400.9,308.5 402.7,307.3 404.5,306.5 406.3,305.0 408.1,306.2 409.8,307.0 411.6,307.6 413.4,309.1 415.2,309.6 417.0,311.2 419.0,308.3 421.0,305.8" fill="none" stroke="#9c2426" stroke-width="1.15" stroke-dasharray="3.7,1.9"/>
<polyline points="265.4,312.3 267.0,311.8 268.7,312.0 270.4,311.9 272.0,311.9 273.8,311.5 275.5,311.0 277.3,311.2 279.2,311.9 281.0,311.9 282.8,311.8 284.6,311.6 286.4,312.2 288.2,311.8 290.0,312.1 291.8,312.3 294.1,311.8 296.5,310.6 298.3,310.7 300.0,310.2 301.8,310.0 303.5,309.4 305.3,309.6 307.0,309.3 308.8,309.4 310.5,308.9 312.3,309.3 314.0,309.6 315.8,310.4 317.5,310.6 319.1,311.3 320.8,311.4 322.4,311.8 324.0,311.9 325.7,312.0 327.4,312.4 329.0,312.8 330.7,313.2 332.6,313.1 334.4,313.4 336.3,313.6 338.1,313.6 340.0,313.0 341.8,312.5 343.6,313.0 345.4,312.1 347.2,312.5 349.0,312.1 350.8,312.7 352.6,312.1 354.3,312.9 356.1,313.1 357.9,313.0 359.7,312.6 361.5,312.7 363.3,312.7 365.1,311.9 366.9,312.1 368.7,310.9 370.4,310.0 372.2,309.4 374.0,308.3 375.8,306.7 377.6,307.2 379.4,308.5 381.2,307.9 383.0,308.2 384.8,307.6 386.6,308.2 388.4,309.2 390.2,309.4 392.0,310.1 393.7,310.7 395.5,311.2 397.3,309.1 399.1,306.7 400.9,305.6 402.7,304.0 404.5,303.3 406.3,302.2 408.1,303.1 409.9,304.0 411.6,304.9 413.4,306.7 415.2,307.7 417.0,309.4 419.7,302.2 421.5,293.3" fill="none" stroke="#9c2426" stroke-width="1.25" stroke-linejoin="round"/>
</g>
<line x1="265.4" y1="312.2" x2="422.2" y2="312.2" stroke="#7c7c7c" stroke-width="1.05" stroke-dasharray="3.85,1.51"/>
<polyline clip-path="url(#clipe)" points="265.4,391.2 340.0,390.6 378.0,389.2 391.4,387.5 400.7,385.2 407.4,382.5 412.1,378.8 415.4,374.1 417.0,369.4 418.1,362.7 418.8,356.0 419.5,348.0 419.9,340.0 420.3,320.0 420.7,300.0 421.0,280.0 421.2,266.0" fill="none" stroke="#767676" stroke-width="1.45" stroke-dasharray="5.25,2.27"/>
<rect x="265.4" y="225.4" width="156.8" height="173.6" fill="none" stroke="#8e8e8e" stroke-width="1.2"/>
<line x1="265.4" y1="399" x2="267.6" y2="399" stroke="#555" stroke-width="0.9"/>
<line x1="265.4" y1="391.77" x2="267" y2="391.77" stroke="#555" stroke-width="0.9"/>
<line x1="265.4" y1="384.53" x2="267" y2="384.53" stroke="#555" stroke-width="0.9"/>
<line x1="265.4" y1="377.3" x2="267" y2="377.3" stroke="#555" stroke-width="0.9"/>
<line x1="265.4" y1="370.07" x2="267.6" y2="370.07" stroke="#555" stroke-width="0.9"/>
<line x1="265.4" y1="362.83" x2="267" y2="362.83" stroke="#555" stroke-width="0.9"/>
<line x1="265.4" y1="355.6" x2="267" y2="355.6" stroke="#555" stroke-width="0.9"/>
<line x1="265.4" y1="348.37" x2="267" y2="348.37" stroke="#555" stroke-width="0.9"/>
<line x1="265.4" y1="341.13" x2="267.6" y2="341.13" stroke="#555" stroke-width="0.9"/>
<line x1="265.4" y1="333.9" x2="267" y2="333.9" stroke="#555" stroke-width="0.9"/>
<line x1="265.4" y1="326.67" x2="267" y2="326.67" stroke="#555" stroke-width="0.9"/>
<line x1="265.4" y1="319.43" x2="267" y2="319.43" stroke="#555" stroke-width="0.9"/>
<line x1="265.4" y1="312.2" x2="267.6" y2="312.2" stroke="#555" stroke-width="0.9"/>
<line x1="265.4" y1="304.97" x2="267" y2="304.97" stroke="#555" stroke-width="0.9"/>
<line x1="265.4" y1="297.73" x2="267" y2="297.73" stroke="#555" stroke-width="0.9"/>
<line x1="265.4" y1="290.5" x2="267" y2="290.5" stroke="#555" stroke-width="0.9"/>
<line x1="265.4" y1="283.27" x2="267.6" y2="283.27" stroke="#555" stroke-width="0.9"/>
<line x1="265.4" y1="276.03" x2="267" y2="276.03" stroke="#555" stroke-width="0.9"/>
<line x1="265.4" y1="268.8" x2="267" y2="268.8" stroke="#555" stroke-width="0.9"/>
<line x1="265.4" y1="261.57" x2="267" y2="261.57" stroke="#555" stroke-width="0.9"/>
<line x1="265.4" y1="254.33" x2="267.6" y2="254.33" stroke="#555" stroke-width="0.9"/>
<line x1="265.4" y1="247.1" x2="267" y2="247.1" stroke="#555" stroke-width="0.9"/>
<line x1="265.4" y1="239.87" x2="267" y2="239.87" stroke="#555" stroke-width="0.9"/>
<line x1="265.4" y1="232.63" x2="267" y2="232.63" stroke="#555" stroke-width="0.9"/>
<line x1="265.4" y1="225.4" x2="267.6" y2="225.4" stroke="#555" stroke-width="0.9"/>
<text x="263.6" y="402.4" text-anchor="end" class="tk">60</text>
<line x1="245.9" y1="399.6" x2="252" y2="399.6" stroke="#2a2a2a" stroke-width="0.95"/>
<text x="263.6" y="373.47" text-anchor="end" class="tk">40</text>
<line x1="245.9" y1="370.67" x2="252" y2="370.67" stroke="#2a2a2a" stroke-width="0.95"/>
<text x="263.6" y="344.53" text-anchor="end" class="tk">20</text>
<line x1="245.9" y1="341.73" x2="252" y2="341.73" stroke="#2a2a2a" stroke-width="0.95"/>
<text x="263.6" y="315.6" text-anchor="end" class="tk">0</text>
<text x="263.6" y="286.67" text-anchor="end" class="tk">20</text>
<text x="263.6" y="257.73" text-anchor="end" class="tk">40</text>
<text x="263.6" y="228.8" text-anchor="end" class="tk">60</text>
<line x1="265.4" y1="399" x2="265.4" y2="396.6" stroke="#555" stroke-width="0.9"/>
<text x="265.4" y="406.8" text-anchor="middle" class="tk">0</text>
<line x1="296.76" y1="399" x2="296.76" y2="396.6" stroke="#555" stroke-width="0.9"/>
<text x="296.76" y="406.8" text-anchor="middle" class="tk">20</text>
<line x1="328.12" y1="399" x2="328.12" y2="396.6" stroke="#555" stroke-width="0.9"/>
<text x="328.12" y="406.8" text-anchor="middle" class="tk">40</text>
<line x1="359.48" y1="399" x2="359.48" y2="396.6" stroke="#555" stroke-width="0.9"/>
<text x="359.48" y="406.8" text-anchor="middle" class="tk">60</text>
<line x1="390.84" y1="399" x2="390.84" y2="396.6" stroke="#555" stroke-width="0.9"/>
<text x="390.84" y="406.8" text-anchor="middle" class="tk">80</text>
<line x1="422.2" y1="399" x2="422.2" y2="396.6" stroke="#555" stroke-width="0.9"/>
<text x="422.2" y="406.8" text-anchor="middle" class="tk">100</text>
<line x1="422.2" y1="391.2" x2="420" y2="391.2" stroke="#555" stroke-width="0.9"/>
<text x="423.8" y="394.6" class="tk">0</text>
<line x1="422.2" y1="358.7" x2="420" y2="358.7" stroke="#555" stroke-width="0.9"/>
<text x="423.8" y="362.1" class="tk">200</text>
<line x1="422.2" y1="326.2" x2="420" y2="326.2" stroke="#555" stroke-width="0.9"/>
<text x="423.8" y="329.6" class="tk">400</text>
<line x1="422.2" y1="293.7" x2="420" y2="293.7" stroke="#555" stroke-width="0.9"/>
<text x="423.8" y="297.1" class="tk">600</text>
<line x1="422.2" y1="261.2" x2="420" y2="261.2" stroke="#555" stroke-width="0.9"/>
<text x="423.8" y="264.6" class="tk">800</text>
<line x1="422.2" y1="228.7" x2="420" y2="228.7" stroke="#555" stroke-width="0.9"/>
<text x="423.8" y="232.1" class="tk">1000</text>
<text x="343.5" y="222.9" text-anchor="middle" class="ti" textLength="41.3" lengthAdjust="spacingAndGlyphs">Atlantic</text>
<text x="268.4" y="223.9" class="lt" textLength="7.0" lengthAdjust="spacingAndGlyphs">e</text>
<text x="343.8" y="417.5" text-anchor="middle" class="lb" textLength="44.3" lengthAdjust="spacingAndGlyphs">Percentile</text>
<text transform="translate(241.1,312.2) rotate(-90)" text-anchor="middle" class="lb" textLength="88.8" lengthAdjust="spacingAndGlyphs">Relative change (%)</text>
<text transform="translate(455.8,312.2) rotate(-90)" text-anchor="middle" class="lb" textLength="101.5" lengthAdjust="spacingAndGlyphs">Flood extent (10<tspan dy="-4.0" font-size="6.8">3</tspan><tspan dy="4.0"> </tspan><tspan font-style="italic">km</tspan><tspan dy="-4.0" font-size="6.8">2</tspan><tspan dy="4.0">)</tspan></text>
<clipPath id="clipf"><rect x="498.6" y="225.6" width="156.20" height="173.30"/></clipPath>
<g clip-path="url(#clipf)">
<polygon points="498.6,312.2 500.7,313.3 502.8,314.6 504.4,314.7 506.0,315.8 507.6,316.9 509.9,317.1 512.3,318.8 513.9,319.5 515.5,319.5 517.1,320.8 519.5,322.1 521.9,323.6 523.5,323.7 525.1,324.6 526.7,325.5 528.6,327.9 530.5,327.0 532.4,325.6 534.3,325.0 536.1,325.4 537.9,326.4 539.7,325.9 541.5,327.2 543.3,328.0 545.0,327.7 546.8,328.0 548.6,327.9 550.4,326.5 552.2,327.0 554.0,325.6 555.8,325.0 558.0,323.7 560.1,321.4 561.9,321.5 563.7,320.7 565.4,319.3 567.2,318.6 569.1,318.0 571.1,318.7 573.0,317.9 575.1,319.5 577.2,320.0 579.0,319.9 580.8,319.4 582.6,318.5 584.4,317.9 586.2,317.0 588.0,317.8 589.8,317.5 591.6,316.4 593.3,316.0 595.0,314.2 596.7,314.4 598.4,314.0 600.0,313.4 601.7,313.1 603.4,313.4 605.1,314.3 606.7,314.3 608.4,313.6 610.0,314.7 611.7,314.2 613.4,314.6 615.1,314.6 616.7,314.4 618.4,313.9 620.1,313.4 621.8,313.5 623.4,312.1 625.1,311.9 626.7,312.2 628.4,311.7 630.1,310.9 631.7,310.2 633.4,309.2 635.1,307.7 636.8,306.7 638.5,304.6 640.1,301.7 641.8,298.7 643.5,296.7 645.1,294.2 646.8,291.0 648.7,270.0 649.9,256.6 651.0,262.0 652.1,268.0 653.5,250.0 654.8,245.0 654.8,330.0 653.0,335.0 651.8,342.7 651.1,348.0 649.8,353.4 647.1,357.4 644.4,360.7 642.4,357.5 640.4,354.7 638.4,350.8 636.4,348.0 634.4,350.0 632.4,353.4 630.4,354.6 628.4,356.0 626.4,357.6 624.4,360.1 622.4,356.4 620.4,353.4 618.3,350.6 616.3,347.5 614.5,348.7 612.8,350.4 611.0,350.7 609.4,353.5 607.7,355.0 605.9,356.9 604.1,360.0 602.3,362.0 600.5,362.6 598.8,362.2 597.0,362.0 595.2,363.0 593.4,363.2 591.6,363.0 589.8,363.0 588.0,363.9 586.2,364.4 584.4,364.4 582.6,363.9 580.8,363.4 579.0,364.4 577.2,363.7 575.4,363.9 573.7,363.6 571.9,362.7 570.1,363.0 568.3,362.0 566.5,360.5 564.7,359.7 562.9,359.4 561.1,359.0 559.3,358.0 557.6,357.2 555.8,355.8 554.0,354.8 552.2,352.9 550.4,351.4 548.6,350.1 546.8,349.3 545.0,347.6 543.3,345.6 541.5,344.3 539.7,344.0 537.9,343.2 536.1,341.8 534.3,340.8 532.5,340.2 530.8,339.5 529.0,338.4 527.2,337.9 525.4,336.4 523.7,336.0 521.9,335.1 519.5,333.3 517.1,331.3 515.5,329.4 513.9,328.3 512.3,327.4 509.9,324.8 507.6,323.1 506.0,322.0 504.4,321.2 502.8,320.3 500.9,318.4 498.6,312.5" fill="#dedee9"/>
<polygon points="498.6,312.2 500.7,313.0 502.8,315.0 504.4,315.5 506.0,316.9 507.6,318.0 509.9,319.5 512.3,321.5 513.9,323.0 515.5,323.2 517.1,324.5 520.0,325.7 521.8,326.6 523.6,327.9 525.4,329.2 527.2,330.0 529.0,331.2 530.8,332.2 532.5,332.7 534.3,333.6 536.1,334.2 537.9,335.6 539.7,335.9 541.5,336.5 543.3,337.0 545.0,336.3 546.8,336.6 548.6,336.5 550.4,336.7 552.2,336.6 554.0,335.4 555.8,335.8 557.6,335.0 559.3,335.2 561.1,334.7 562.9,333.6 564.7,333.5 566.5,333.8 568.3,333.0 570.1,332.9 571.9,333.4 573.7,333.7 575.4,334.4 577.2,335.0 579.0,334.8 580.8,334.0 582.6,334.1 584.4,333.6 586.2,333.2 588.0,332.8 589.8,331.6 591.6,331.5 593.3,331.6 595.0,331.8 596.7,330.4 598.4,329.2 600.0,328.6 601.7,327.3 603.4,326.8 605.1,324.6 606.7,323.4 608.4,321.8 610.0,321.9 611.7,320.9 613.4,320.9 615.0,320.8 616.7,320.1 618.4,319.9 620.0,318.5 621.7,318.4 623.4,318.1 625.1,317.8 626.8,316.7 628.5,316.7 630.1,315.2 631.8,315.1 633.5,315.0 635.1,314.5 636.8,313.4 638.5,311.8 640.1,310.9 641.8,310.1 643.5,308.2 645.1,306.7 646.8,304.5 648.5,301.7 650.0,296.0 651.8,293.0 654.8,290.0 654.8,322.0 652.5,326.3 650.1,330.9 648.4,331.7 646.8,333.0 645.1,334.3 643.4,335.0 641.8,336.0 640.1,336.8 638.4,338.4 636.8,338.7 635.1,340.1 633.4,340.9 631.8,342.1 630.1,342.5 628.4,343.5 626.7,344.6 625.0,345.5 623.4,346.6 621.7,347.7 620.0,348.6 618.4,349.3 616.8,347.0 615.1,343.5 613.4,342.3 611.7,340.1 610.0,342.1 608.4,345.1 606.7,346.7 605.1,348.8 603.4,350.2 601.7,350.7 600.0,350.6 598.4,351.7 596.7,352.0 595.0,352.7 593.3,353.6 591.6,354.4 589.8,354.5 588.0,354.8 586.2,355.7 584.4,355.8 582.6,356.3 580.8,355.9 579.0,356.3 577.2,356.5 575.4,356.3 573.7,357.2 571.9,357.9 570.1,357.9 568.3,357.2 566.5,356.4 564.7,356.0 562.9,355.8 561.1,354.8 559.3,354.2 557.6,352.3 555.8,351.5 554.0,350.7 552.2,349.7 550.4,348.3 548.6,347.2 546.8,346.0 545.0,344.9 543.3,343.8 541.5,342.2 539.7,341.6 537.9,340.5 536.1,339.5 534.3,337.9 532.5,337.1 530.8,335.5 529.0,335.0 527.2,334.3 525.4,333.6 523.6,332.7 521.8,331.3 520.0,330.0 517.1,328.5 515.5,326.8 513.9,326.5 512.3,325.0 509.9,322.9 507.6,321.5 506.0,320.1 504.4,319.1 502.8,318.0 500.7,316.3 498.6,313.5" fill="#b5b5c9"/>
<polyline points="498.6,312.6 500.7,314.7 502.8,316.5 504.4,317.9 506.0,318.2 507.6,319.5 509.9,321.2 512.3,323.2 513.9,324.6 515.5,325.6 517.1,326.5 520.0,327.6 521.8,328.4 523.6,329.2 525.4,330.4 527.2,331.5 529.0,331.8 530.8,332.8 532.5,333.5 534.3,334.5 536.1,335.5 537.9,335.8 539.7,336.4 541.5,337.5 543.3,338.1 545.0,339.4 546.8,340.2 548.6,341.0 550.4,342.2 552.2,343.2 554.0,344.0 555.8,345.3 557.6,346.6 559.3,346.7 561.1,348.0 562.9,349.0 564.7,349.1 566.5,349.9 568.3,349.8 570.1,350.5 572.2,350.6 574.4,350.0 576.5,348.4 578.7,347.0 580.6,346.7 582.5,347.0 584.4,347.5 586.2,347.4 588.0,348.0 589.8,348.0 591.6,348.0 593.3,347.7 595.0,348.0 596.9,346.6 598.8,345.8 600.7,345.0 602.7,343.0 604.7,341.8 606.7,339.5 608.8,335.2 610.9,331.0 613.4,334.0 615.0,336.3 616.7,339.5 618.4,339.2 620.0,338.6 621.7,338.0 623.4,336.6 625.1,335.4 626.8,334.5 628.5,333.4 630.1,332.5 631.8,332.0 633.5,331.8 635.1,331.0 636.8,332.8 638.5,334.5 641.0,340.0 643.5,336.0 645.1,334.0 646.8,332.0 649.3,326.0 651.8,318.0" fill="none" stroke="#4a4c6f" stroke-width="1.1" stroke-dasharray="1.1,1.8"/>
<polyline points="498.6,312.4 500.7,313.8 502.8,316.0 504.4,316.6 506.0,317.8 507.6,318.8 509.9,320.9 512.3,322.5 513.9,323.3 515.5,324.7 517.1,325.8 520.0,326.9 521.8,328.0 523.6,328.5 525.4,329.6 527.2,330.8 529.0,331.1 530.8,332.5 532.5,332.6 534.3,333.6 536.1,334.1 537.9,335.2 539.7,336.1 541.5,336.5 543.3,337.4 545.0,338.6 546.8,339.5 548.6,340.1 550.4,341.2 552.2,341.8 554.0,343.4 555.8,344.3 557.6,345.2 559.3,346.2 561.1,347.4 562.9,347.9 564.7,347.9 566.5,348.7 568.3,349.4 570.1,349.4 572.2,349.2 574.4,348.7 576.5,346.8 578.7,345.1 580.6,345.3 582.5,345.2 584.4,345.8 586.2,345.6 588.0,346.3 589.8,346.3 591.6,346.5 593.3,347.0 595.0,346.8 596.9,345.6 598.8,344.6 600.7,343.5 602.7,341.3 604.7,339.2 606.7,337.6 608.8,333.2 610.9,328.5 613.4,331.8 615.0,334.9 616.7,337.6 618.4,337.2 620.0,336.5 621.7,336.0 623.4,335.3 625.1,333.9 626.8,332.6 628.5,331.7 630.1,330.9 631.8,330.1 633.5,329.4 635.1,328.5 636.8,330.7 638.5,332.6 641.0,338.5 643.5,334.3 645.1,332.3 646.8,330.1 649.3,323.4 651.8,315.1" fill="none" stroke="#4a4c6f" stroke-width="1.15" stroke-dasharray="3.7,1.9"/>
<polyline points="498.6,312.4 499.0,313.6 500.9,315.0 502.8,316.5 504.7,316.9 507.6,319.3 509.9,321.4 512.3,323.1 513.9,324.4 515.5,325.6 517.1,326.5 520.0,327.9 521.8,329.0 523.6,329.9 525.4,330.9 527.2,331.5 529.0,332.7 530.8,332.9 532.5,334.4 534.3,335.0 536.1,336.2 537.9,337.0 539.7,338.0 541.5,338.6 543.3,339.7 545.0,340.7 546.8,342.1 548.6,342.9 550.4,343.5 552.2,344.9 554.0,346.1 555.8,347.2 557.6,348.7 559.3,349.4 561.1,350.9 562.9,351.5 564.7,351.6 566.5,352.4 568.3,353.4 570.1,353.6 572.2,353.7 574.4,352.9 576.5,352.5 578.7,351.5 580.9,352.3 583.0,352.6 585.1,352.7 587.3,352.9 589.5,352.3 591.6,351.5 593.3,350.2 595.0,348.5 596.7,348.0 598.3,347.1 600.0,346.0 601.7,344.1 603.3,342.2 605.0,340.1 606.7,337.7 608.4,335.1 610.9,330.1 612.5,329.3 614.2,334.3 616.7,340.1 619.2,341.0 620.9,340.0 622.6,338.5 624.2,337.0 625.9,335.1 628.4,333.4 630.1,331.0 631.8,329.3 633.5,325.9 635.1,322.6 637.6,321.8 640.1,325.1 642.6,322.6 645.1,319.2 647.6,315.1 650.1,310.9 652.7,315.1" fill="none" stroke="#4a4c6f" stroke-width="1.25" stroke-linejoin="round"/>
</g>
<line x1="498.6" y1="312.25" x2="654.8" y2="312.25" stroke="#7c7c7c" stroke-width="1.05" stroke-dasharray="3.85,1.51"/>
<polyline clip-path="url(#clipf)" points="498.6,391.5 580.0,390.0 611.0,389.2 624.4,387.9 633.7,385.5 640.4,382.5 645.1,378.5 647.8,374.8 649.5,370.1 650.6,365.4 651.1,360.1 651.7,353.4 652.2,346.7 652.6,340.0 653.0,320.0 653.4,300.0 653.7,280.0 653.9,258.0" fill="none" stroke="#767676" stroke-width="1.45" stroke-dasharray="5.25,2.27"/>
<rect x="498.6" y="225.6" width="156.2" height="173.3" fill="none" stroke="#8e8e8e" stroke-width="1.2"/>
<line x1="498.6" y1="398.9" x2="500.8" y2="398.9" stroke="#555" stroke-width="0.9"/>
<line x1="498.6" y1="391.68" x2="500.2" y2="391.68" stroke="#555" stroke-width="0.9"/>
<line x1="498.6" y1="384.46" x2="500.2" y2="384.46" stroke="#555" stroke-width="0.9"/>
<line x1="498.6" y1="377.24" x2="500.2" y2="377.24" stroke="#555" stroke-width="0.9"/>
<line x1="498.6" y1="370.02" x2="500.8" y2="370.02" stroke="#555" stroke-width="0.9"/>
<line x1="498.6" y1="362.8" x2="500.2" y2="362.8" stroke="#555" stroke-width="0.9"/>
<line x1="498.6" y1="355.57" x2="500.2" y2="355.57" stroke="#555" stroke-width="0.9"/>
<line x1="498.6" y1="348.35" x2="500.2" y2="348.35" stroke="#555" stroke-width="0.9"/>
<line x1="498.6" y1="341.13" x2="500.8" y2="341.13" stroke="#555" stroke-width="0.9"/>
<line x1="498.6" y1="333.91" x2="500.2" y2="333.91" stroke="#555" stroke-width="0.9"/>
<line x1="498.6" y1="326.69" x2="500.2" y2="326.69" stroke="#555" stroke-width="0.9"/>
<line x1="498.6" y1="319.47" x2="500.2" y2="319.47" stroke="#555" stroke-width="0.9"/>
<line x1="498.6" y1="312.25" x2="500.8" y2="312.25" stroke="#555" stroke-width="0.9"/>
<line x1="498.6" y1="305.03" x2="500.2" y2="305.03" stroke="#555" stroke-width="0.9"/>
<line x1="498.6" y1="297.81" x2="500.2" y2="297.81" stroke="#555" stroke-width="0.9"/>
<line x1="498.6" y1="290.59" x2="500.2" y2="290.59" stroke="#555" stroke-width="0.9"/>
<line x1="498.6" y1="283.37" x2="500.8" y2="283.37" stroke="#555" stroke-width="0.9"/>
<line x1="498.6" y1="276.15" x2="500.2" y2="276.15" stroke="#555" stroke-width="0.9"/>
<line x1="498.6" y1="268.93" x2="500.2" y2="268.93" stroke="#555" stroke-width="0.9"/>
<line x1="498.6" y1="261.7" x2="500.2" y2="261.7" stroke="#555" stroke-width="0.9"/>
<line x1="498.6" y1="254.48" x2="500.8" y2="254.48" stroke="#555" stroke-width="0.9"/>
<line x1="498.6" y1="247.26" x2="500.2" y2="247.26" stroke="#555" stroke-width="0.9"/>
<line x1="498.6" y1="240.04" x2="500.2" y2="240.04" stroke="#555" stroke-width="0.9"/>
<line x1="498.6" y1="232.82" x2="500.2" y2="232.82" stroke="#555" stroke-width="0.9"/>
<line x1="498.6" y1="225.6" x2="500.8" y2="225.6" stroke="#555" stroke-width="0.9"/>
<text x="496.8" y="402.3" text-anchor="end" class="tk">60</text>
<line x1="479.1" y1="399.5" x2="485.2" y2="399.5" stroke="#2a2a2a" stroke-width="0.95"/>
<text x="496.8" y="373.42" text-anchor="end" class="tk">40</text>
<line x1="479.1" y1="370.62" x2="485.2" y2="370.62" stroke="#2a2a2a" stroke-width="0.95"/>
<text x="496.8" y="344.53" text-anchor="end" class="tk">20</text>
<line x1="479.1" y1="341.73" x2="485.2" y2="341.73" stroke="#2a2a2a" stroke-width="0.95"/>
<text x="496.8" y="315.65" text-anchor="end" class="tk">0</text>
<text x="496.8" y="286.77" text-anchor="end" class="tk">20</text>
<text x="496.8" y="257.88" text-anchor="end" class="tk">40</text>
<text x="496.8" y="229" text-anchor="end" class="tk">60</text>
<line x1="498.6" y1="398.9" x2="498.6" y2="396.5" stroke="#555" stroke-width="0.9"/>
<text x="498.6" y="406.7" text-anchor="middle" class="tk">0</text>
<line x1="529.84" y1="398.9" x2="529.84" y2="396.5" stroke="#555" stroke-width="0.9"/>
<text x="529.84" y="406.7" text-anchor="middle" class="tk">20</text>
<line x1="561.08" y1="398.9" x2="561.08" y2="396.5" stroke="#555" stroke-width="0.9"/>
<text x="561.08" y="406.7" text-anchor="middle" class="tk">40</text>
<line x1="592.32" y1="398.9" x2="592.32" y2="396.5" stroke="#555" stroke-width="0.9"/>
<text x="592.32" y="406.7" text-anchor="middle" class="tk">60</text>
<line x1="623.56" y1="398.9" x2="623.56" y2="396.5" stroke="#555" stroke-width="0.9"/>
<text x="623.56" y="406.7" text-anchor="middle" class="tk">80</text>
<line x1="654.8" y1="398.9" x2="654.8" y2="396.5" stroke="#555" stroke-width="0.9"/>
<text x="654.8" y="406.7" text-anchor="middle" class="tk">100</text>
<line x1="654.8" y1="391.5" x2="652.6" y2="391.5" stroke="#555" stroke-width="0.9"/>
<text x="656.4" y="394.9" class="tk">0</text>
<line x1="654.8" y1="371.5" x2="652.6" y2="371.5" stroke="#555" stroke-width="0.9"/>
<text x="656.4" y="374.9" class="tk">100</text>
<line x1="654.8" y1="351.5" x2="652.6" y2="351.5" stroke="#555" stroke-width="0.9"/>
<text x="656.4" y="354.9" class="tk">200</text>
<line x1="654.8" y1="331.5" x2="652.6" y2="331.5" stroke="#555" stroke-width="0.9"/>
<text x="656.4" y="334.9" class="tk">300</text>
<line x1="654.8" y1="311.5" x2="652.6" y2="311.5" stroke="#555" stroke-width="0.9"/>
<text x="656.4" y="314.9" class="tk">400</text>
<line x1="654.8" y1="291.5" x2="652.6" y2="291.5" stroke="#555" stroke-width="0.9"/>
<text x="656.4" y="294.9" class="tk">500</text>
<line x1="654.8" y1="271.5" x2="652.6" y2="271.5" stroke="#555" stroke-width="0.9"/>
<text x="656.4" y="274.9" class="tk">600</text>
<line x1="654.8" y1="251.5" x2="652.6" y2="251.5" stroke="#555" stroke-width="0.9"/>
<text x="656.4" y="254.9" class="tk">700</text>
<line x1="654.8" y1="231.5" x2="652.6" y2="231.5" stroke="#555" stroke-width="0.9"/>
<text x="656.4" y="234.9" class="tk">800</text>
<text x="576.6" y="223.1" text-anchor="middle" class="ti" textLength="48.5" lengthAdjust="spacingAndGlyphs">Southern</text>
<text x="500" y="224" class="lt" textLength="4.4" lengthAdjust="spacingAndGlyphs">f</text>
<text x="576.7" y="417.4" text-anchor="middle" class="lb" textLength="44.3" lengthAdjust="spacingAndGlyphs">Percentile</text>
<text transform="translate(474.4,312.25) rotate(-90)" text-anchor="middle" class="lb" textLength="88.8" lengthAdjust="spacingAndGlyphs">Relative change (%)</text>
<text transform="translate(682.7,312.25) rotate(-90)" text-anchor="middle" class="lb" textLength="101.5" lengthAdjust="spacingAndGlyphs">Flood extent (10<tspan dy="-4.0" font-size="6.8">3</tspan><tspan dy="4.0"> </tspan><tspan font-style="italic">km</tspan><tspan dy="-4.0" font-size="6.8">2</tspan><tspan dy="4.0">)</tspan></text>
<rect x="37.6" y="22.9" width="19.3" height="7.9" fill="#c3c3c3"/>
<line x1="37.9" y1="27.4" x2="56.9" y2="27.4" stroke="#707070" stroke-width="1.05"/>
<line x1="37.3" y1="40.9" x2="57.0" y2="40.9" stroke="#555" stroke-width="1.35" stroke-dasharray="4.3,1.0"/>
<line x1="37.599999999999994" y1="56.3" x2="57.0" y2="56.3" stroke="#333" stroke-width="1.3" stroke-dasharray="1.2,1.15"/>
<line x1="37.3" y1="71.3" x2="57.0" y2="71.3" stroke="#555" stroke-width="1.25" stroke-dasharray="4.3,1.0"/>
<text x="60.4" y="28.3" class="lg">Relative change, +3°C</text>
<text x="60.4" y="44.4" class="lg">Relative change, + 2°C</text>
<text x="60.4" y="59.8" class="lg">Relative change, + 1.5°C</text>
<text x="60.4" y="75.0" class="lg">Flood extent, base</text>
</svg></div>
</body></html>
